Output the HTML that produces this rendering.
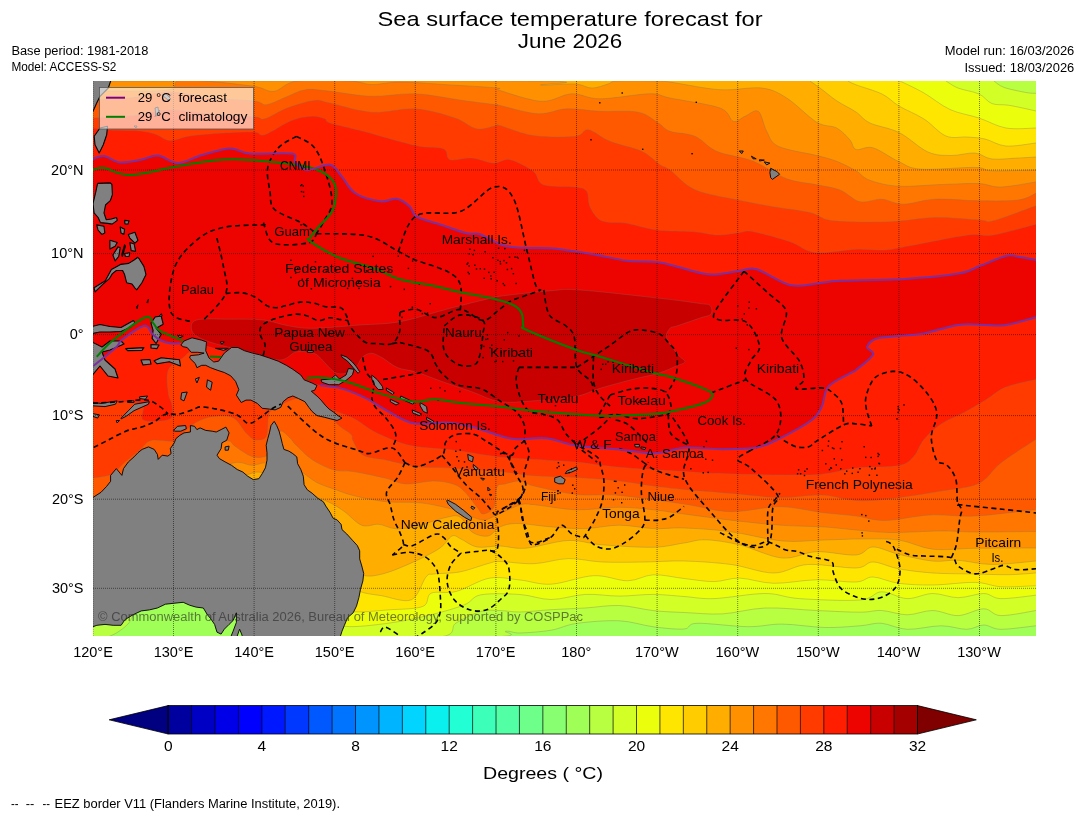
<!DOCTYPE html><html><head><meta charset="utf-8"><style>html,body{margin:0;padding:0;background:#fff;}svg{display:block;will-change:transform;}</style></head><body>
<svg width="1085" height="816" viewBox="0 0 1085 816" font-family="Liberation Sans, sans-serif">
<rect width="1085" height="816" fill="#fff"/>
<defs><clipPath id="mc"><rect x="93" y="81" width="943" height="555"/></clipPath></defs>
<g clip-path="url(#mc)">
<rect x="93" y="81" width="943" height="555" fill="#a0ff56"/>
<path d="M91,79L1038,79L1038,625.8L1036.0,625.8C1030.1,626.4 1009.5,629.4 1000.8,629.3C992.1,629.2 989.5,625.0 983.8,625.0C978.1,625.0 973.8,629.2 966.7,629.3C959.6,629.4 951.1,625.8 941.2,625.8C931.3,625.8 917.0,629.7 907.1,629.3C897.2,628.9 889.5,623.9 881.6,623.3C873.8,622.7 869.5,625.1 860.0,625.8C850.5,626.5 837.8,627.8 824.8,627.5C811.8,627.2 795.0,624.2 782.2,624.1C769.4,624.0 762.3,626.8 748.1,626.7C733.9,626.6 707.7,622.9 697.0,623.3C686.3,623.7 691.3,628.4 684.0,629.0C676.7,629.6 664.1,628.2 653.3,626.8C642.5,625.4 632.1,621.4 619.3,620.8C606.5,620.2 588.1,621.8 576.7,623.4C565.3,625.0 560.6,628.6 551.1,630.2C541.6,631.8 527.5,632.8 520.0,633.0C512.5,633.2 510.9,630.6 505.8,631.3C500.7,632.0 530.3,636.0 489.3,637.0C448.3,638.0 299.9,641.2 260.0,637.0C220.1,632.8 256.7,617.3 250.0,612.0C243.3,606.7 231.7,606.7 220.0,605.0C208.3,603.3 193.3,601.2 180.0,602.0C166.7,602.8 148.7,606.3 140.0,610.0C131.3,613.7 131.7,620.3 128.0,624.0C124.3,627.7 121.3,629.8 118.0,632.0C114.7,634.2 109.7,636.2 108.0,637.0L91,637.0Z" fill="#b7ff40" stroke="rgba(120,110,100,0.45)" stroke-width="0.7"/>
<path d="M91,79L994.0,79L994.0,81.0C995.7,82.1 998.7,85.5 1004.0,87.4C1009.3,89.3 1020.7,91.5 1026.0,92.5C1031.3,93.5 1034.3,93.2 1036.0,93.3L1038,93.3L1038,610.5L1036.0,610.5C1030.1,611.4 1009.5,615.9 1000.8,615.6C992.1,615.3 990.9,608.8 983.8,608.8C976.7,608.8 966.7,615.3 958.2,615.6C949.7,615.9 941.2,610.6 932.7,610.5C924.2,610.4 915.6,614.8 907.1,614.8C898.6,614.8 889.5,610.9 881.6,610.5C873.8,610.1 870.9,612.2 860.0,612.2C849.1,612.2 832.1,611.2 816.3,610.5C800.5,609.8 780.8,607.4 765.2,608.0C749.6,608.6 736.1,613.1 722.6,613.9C709.1,614.6 695.5,613.0 684.0,612.5C672.5,612.0 664.1,611.8 653.3,610.6C642.5,609.4 630.6,605.9 619.3,605.5C607.9,605.1 596.6,607.3 585.2,608.0C573.8,608.7 562.0,609.0 551.1,609.7C540.2,610.4 528.5,611.9 520.0,612.0C511.5,612.1 506.5,610.7 500.0,610.6C493.5,610.5 488.3,609.3 481.0,611.4C473.7,613.5 463.0,618.7 456.1,623.0C449.2,627.3 458.9,634.7 439.5,637.0C420.1,639.3 358.2,639.8 340.0,637.0C321.8,634.2 336.7,626.2 330.0,620.0C323.3,613.8 321.7,603.7 300.0,600.0C278.3,596.3 234.5,596.3 200.0,598.0C165.5,599.7 110.8,608.0 93.0,610.0L91,610.0Z" fill="#d1ff26" stroke="rgba(120,110,100,0.45)" stroke-width="0.7"/>
<path d="M91,79L946.0,79L946.0,81.0C948.0,82.2 952.5,85.8 958.0,88.0C963.5,90.2 973.3,91.4 979.0,94.0C984.7,96.6 987.0,101.7 992.0,103.6C997.0,105.5 1001.7,104.1 1009.0,105.3C1016.3,106.5 1031.5,110.0 1036.0,111.0L1038,111.0L1038,595.2L1036.0,595.2C1030.1,595.8 1009.5,598.9 1000.8,598.6C992.1,598.3 990.9,593.6 983.8,593.5C976.7,593.4 966.7,597.7 958.2,597.7C949.7,597.7 941.2,593.4 932.7,593.5C924.2,593.6 915.6,598.9 907.1,598.6C898.6,598.3 889.5,591.6 881.6,591.8C873.8,592.0 873.7,598.9 860.0,600.0C846.3,601.1 815.1,599.7 799.3,598.6C783.5,597.5 779.4,593.5 765.2,593.5C751.0,593.5 727.6,598.1 714.1,598.6C700.6,599.1 694.1,597.2 684.0,596.5C673.9,595.8 664.1,594.5 653.3,594.4C642.5,594.3 630.6,596.1 619.3,596.1C607.9,596.1 596.6,593.8 585.2,594.4C573.8,595.0 562.0,599.5 551.1,599.5C540.2,599.5 531.7,595.3 520.0,594.5C508.3,593.7 490.3,593.1 481.0,594.8C471.7,596.5 472.7,601.5 464.4,604.8C456.1,608.1 443.6,611.7 431.2,614.7C418.8,617.7 404.2,621.1 389.8,623.0C375.4,624.9 355.0,627.6 345.0,626.3C335.0,625.0 337.5,622.7 330.0,615.0C322.5,607.3 321.7,585.8 300.0,580.0C278.3,574.2 234.5,578.3 200.0,580.0C165.5,581.7 110.8,588.3 93.0,590.0L91,590.0Z" fill="#ebff0c" stroke="rgba(120,110,100,0.45)" stroke-width="0.7"/>
<path d="M91,79L900.0,79L900.0,81.0C904.0,83.0 915.7,88.2 924.0,93.0C932.3,97.8 940.8,105.3 950.0,109.5C959.2,113.7 969.7,114.9 979.0,118.0C988.3,121.1 996.5,126.3 1006.0,128.0C1015.5,129.7 1031.0,128.0 1036.0,128.0L1038,128.0L1038,585.8L1036.0,585.8C1030.1,585.9 1010.9,587.3 1000.8,586.7C990.7,586.1 986.6,582.7 975.3,582.4C963.9,582.1 945.5,584.9 932.7,585.0C919.9,585.1 908.6,584.6 898.6,583.3C888.6,582.0 880.1,577.2 873.0,577.0C865.9,576.8 865.5,581.5 856.0,582.0C846.5,582.5 830.0,579.6 816.3,579.8C802.6,580.0 786.5,583.6 773.7,583.3C760.9,583.0 749.5,578.4 739.6,578.1C729.7,577.8 723.4,581.5 714.1,581.6C704.8,581.7 694.1,579.6 684.0,578.5C673.9,577.4 662.7,574.4 653.3,574.8C643.9,575.2 637.7,580.6 627.8,580.8C617.9,580.9 606.5,575.1 593.7,575.7C580.9,576.3 563.4,583.5 551.1,584.2C538.8,584.9 530.3,581.0 520.0,580.0C509.7,579.0 499.9,576.3 489.3,578.2C478.7,580.1 465.8,589.0 456.1,591.5C446.4,594.0 436.7,590.7 431.2,593.2C425.7,595.7 429.8,603.6 422.9,606.4C416.0,609.2 401.9,609.0 389.8,609.8C377.7,610.6 360.0,613.0 350.0,611.4C340.0,609.8 338.3,608.6 330.0,600.0C321.7,591.4 321.7,566.7 300.0,560.0C278.3,553.3 234.5,557.5 200.0,560.0C165.5,562.5 110.8,572.5 93.0,575.0L91,575.0Z" fill="#ffe600" stroke="rgba(120,110,100,0.45)" stroke-width="0.7"/>
<path d="M91,79L848.0,79L848.0,81.0C849.3,81.6 850.3,82.6 856.0,84.8C861.7,87.0 874.8,90.5 882.0,94.0C889.2,97.5 892.0,101.8 899.0,106.0C906.0,110.2 916.2,114.0 924.0,119.0C931.8,124.0 938.8,133.0 946.0,136.0C953.2,139.0 960.5,136.5 967.0,137.0C973.5,137.5 978.5,137.5 985.0,139.0C991.5,140.5 997.5,145.3 1006.0,146.0C1014.5,146.7 1031.0,143.5 1036.0,143.0L1038,143.0L1038,573.0L1036.0,573.0C1031.5,573.3 1019.2,574.5 1009.0,574.7C998.8,574.9 987.7,574.3 975.0,574.0C962.3,573.7 945.4,573.9 932.7,573.0C920.0,572.1 908.6,570.6 898.6,568.8C888.6,567.0 880.1,562.1 873.0,562.0C865.9,561.9 866.9,567.6 856.0,568.0C845.1,568.4 821.5,563.7 807.8,564.5C794.1,565.3 786.5,573.0 773.7,573.0C760.9,573.0 746.1,566.5 731.1,564.5C716.1,562.5 698.4,561.4 684.0,561.0C669.6,560.6 658.4,561.8 644.8,562.0C631.2,562.2 615.0,562.6 602.2,562.0C589.4,561.4 579.5,558.3 568.1,558.6C556.8,558.9 545.5,563.2 534.1,563.7C522.8,564.2 507.5,561.6 500.0,561.5C492.5,561.4 495.7,561.6 489.0,563.3C482.3,565.0 469.2,570.1 460.0,571.9C450.8,573.7 439.7,573.1 434.0,574.0C428.3,574.9 429.8,572.7 426.0,577.0C422.2,581.3 418.7,596.7 411.3,599.8C403.9,602.9 390.1,597.1 381.5,595.7C372.9,594.3 366.8,594.1 359.9,591.5C353.0,588.9 350.0,588.6 340.0,580.0C330.0,571.4 323.3,546.7 300.0,540.0C276.7,533.3 234.5,536.7 200.0,540.0C165.5,543.3 110.8,556.7 93.0,560.0L91,560.0Z" fill="#ffcc00" stroke="rgba(120,110,100,0.45)" stroke-width="0.7"/>
<path d="M91,79L810.0,79L810.0,81.0C811.7,82.2 815.5,84.7 820.0,88.0C824.5,91.3 831.0,97.0 837.0,101.0C843.0,105.0 850.5,108.3 856.0,112.0C861.5,115.7 862.8,119.6 870.0,123.0C877.2,126.4 889.3,127.7 899.0,132.5C908.7,137.3 919.3,148.2 928.0,152.0C936.7,155.8 943.2,155.3 951.0,155.5C958.8,155.7 968.2,152.4 975.0,153.0C981.8,153.6 984.8,158.2 992.0,159.0C999.2,159.8 1010.7,158.3 1018.0,158.0C1025.3,157.7 1033.0,157.2 1036.0,157.0L1038,157.0L1038,561.0L1036.0,561.0C1028.7,561.6 1005.3,564.6 992.3,564.5C979.3,564.4 968.1,560.9 958.2,560.3C948.3,559.7 942.6,562.1 932.7,561.1C922.8,560.1 908.6,556.6 898.6,554.3C888.6,551.9 880.1,546.9 873.0,547.0C865.9,547.1 865.5,554.2 856.0,555.0C846.5,555.8 828.6,551.2 816.3,551.7C804.0,552.2 795.0,559.1 782.2,558.0C769.4,556.9 752.4,547.9 739.6,544.9C726.8,541.9 714.9,540.1 705.6,539.8C696.3,539.5 692.7,541.8 684.0,543.0C675.3,544.2 666.9,547.0 653.3,547.3C639.7,547.6 616.4,545.9 602.2,544.8C588.0,543.7 580.9,539.9 568.1,540.5C555.3,541.1 537.0,547.3 525.6,548.2C514.2,549.1 508.1,546.2 500.0,546.0C491.9,545.8 483.5,548.2 477.0,547.0C470.5,545.8 465.2,540.8 461.0,539.0C456.8,537.2 455.5,534.5 452.0,536.0C448.5,537.5 446.1,543.8 440.0,548.0C433.9,552.2 424.9,556.8 415.6,561.0C406.3,565.2 393.1,571.2 384.2,573.5C375.3,575.8 369.4,577.2 362.0,575.0C354.6,572.8 350.3,569.2 340.0,560.0C329.7,550.8 323.3,526.7 300.0,520.0C276.7,513.3 234.5,516.7 200.0,520.0C165.5,523.3 110.8,536.7 93.0,540.0L91,540.0Z" fill="#ffae00" stroke="rgba(120,110,100,0.45)" stroke-width="0.7"/>
<path d="M91,81.0L93.0,81.0C166.3,81.0 458.3,80.3 533.0,81.0C607.7,81.7 534.0,84.5 541.0,85.0C548.0,85.5 566.5,83.5 575.0,84.0C583.5,84.5 586.5,88.0 592.0,88.0C597.5,88.0 603.8,85.2 608.0,84.0C612.2,82.8 609.2,81.5 617.0,81.0C624.8,80.5 646.2,80.8 655.0,81.0C663.8,81.2 659.2,80.5 670.0,82.0C680.8,83.5 704.7,88.7 720.0,89.7C735.3,90.7 750.6,86.6 761.7,88.0C772.8,89.4 777.5,92.3 786.7,98.0C795.9,103.7 808.4,117.2 816.7,122.2C825.0,127.2 831.2,125.0 836.7,128.0C842.2,131.0 846.8,136.4 850.0,140.0C853.2,143.6 852.2,148.2 856.0,149.5C859.8,150.8 865.9,145.8 873.0,147.8C880.1,149.8 890.6,157.9 898.6,161.5C906.6,165.1 907.9,168.1 920.7,169.1C933.5,170.1 963.3,167.1 975.2,167.4C987.1,167.7 982.2,170.4 992.3,170.8C1002.4,171.2 1028.7,170.1 1036.0,170.0L1038,170.0L1038,548.0L1036.0,548.0C1025.8,548.0 992.2,548.1 975.0,548.3C957.8,548.5 945.4,550.6 932.7,549.2C920.0,547.8 910.7,541.7 898.6,540.0C886.5,538.3 872.3,539.0 860.0,539.0C847.7,539.0 837.8,539.7 824.8,540.0C811.8,540.3 797.8,542.4 782.2,541.0C766.6,539.6 747.5,534.0 731.1,531.8C714.7,529.6 697.0,528.5 684.0,528.0C671.0,527.5 664.1,529.1 653.3,528.6C642.5,528.1 630.6,525.2 619.3,525.2C607.9,525.2 596.6,528.3 585.2,528.6C573.8,528.9 562.5,527.8 551.1,526.9C539.7,526.0 525.5,523.5 517.0,523.5C508.5,523.5 504.8,524.9 500.0,527.0C495.2,529.1 492.7,535.2 488.0,536.0C483.3,536.8 476.7,535.2 472.0,532.0C467.3,528.8 464.5,519.4 460.0,517.0C455.5,514.6 452.4,516.1 445.0,517.7C437.6,519.3 423.9,524.7 415.6,526.5C407.3,528.3 401.5,529.1 395.3,528.7C389.1,528.3 384.2,524.8 378.7,524.3C373.2,523.8 367.7,527.4 362.1,525.4C356.5,523.4 349.6,515.4 345.0,512.0C340.4,508.6 337.2,506.7 334.3,505.0C331.4,503.3 331.8,503.5 327.7,501.7C323.6,499.9 317.9,497.6 310.0,494.0C302.1,490.4 287.6,483.5 280.0,480.0C272.4,476.5 269.7,473.8 264.1,473.0C258.5,472.2 257.1,470.7 246.4,475.2C235.7,479.7 225.6,492.5 200.0,500.0C174.4,507.5 110.8,516.7 93.0,520.0L91,520.0Z" fill="#ff9100" stroke="rgba(120,110,100,0.45)" stroke-width="0.7"/>
<path d="M91,90.0L93.0,90.0C95.8,90.2 97.5,91.0 110.0,91.0C122.5,91.0 156.7,91.7 168.0,90.0C179.3,88.3 171.8,82.5 178.0,81.0C184.2,79.5 192.3,80.1 205.0,81.0C217.7,81.9 242.5,84.6 254.0,86.3C265.5,88.0 266.8,92.2 274.0,91.3C281.2,90.4 284.3,82.7 297.0,81.0C309.7,79.3 337.5,80.4 350.0,81.0C362.5,81.6 363.7,84.3 372.0,84.5C380.3,84.7 387.5,82.0 400.0,82.0C412.5,82.0 430.8,83.7 447.0,84.7C463.2,85.7 488.2,87.0 497.0,88.0C505.8,89.0 492.6,88.3 500.0,90.5C507.4,92.7 529.8,100.8 541.7,101.3C553.7,101.8 562.0,94.2 571.7,93.8C581.4,93.4 587.0,98.8 600.0,98.8C613.0,98.8 638.3,93.9 650.0,93.8C661.7,93.7 658.3,95.6 670.0,98.0C681.7,100.4 709.5,104.1 720.0,108.0C730.5,111.9 729.1,119.9 733.3,121.3C737.5,122.7 740.8,118.0 745.0,116.3C749.2,114.6 754.7,108.8 758.3,111.3C761.9,113.8 763.4,125.5 766.7,131.3C770.0,137.1 770.0,142.3 778.3,146.3C786.6,150.3 807.0,153.0 816.7,155.5C826.4,158.0 830.2,158.8 836.7,161.3C843.2,163.9 850.5,167.7 856.0,170.8C861.5,174.0 862.5,177.6 869.6,180.2C876.7,182.8 886.7,185.5 898.6,186.2C910.5,186.9 927.9,184.9 941.2,184.5C954.6,184.1 968.8,183.2 978.7,183.6C988.6,184.0 991.2,187.3 1000.8,187.0C1010.3,186.7 1030.1,182.8 1036.0,181.9L1038,181.9L1038,531.5L1036.0,531.5C1025.8,531.6 990.8,532.1 975.0,532.0C959.2,531.9 955.2,530.9 941.0,531.0C926.8,531.1 904.2,532.7 890.0,532.5C875.8,532.3 866.9,530.9 856.0,530.0C845.1,529.1 837.1,527.8 824.8,527.0C812.5,526.2 797.8,526.4 782.2,525.3C766.6,524.2 747.5,522.1 731.1,520.2C714.7,518.3 697.0,515.7 684.0,514.0C671.0,512.3 664.1,510.9 653.3,509.8C642.5,508.7 632.1,507.3 619.3,507.3C606.5,507.3 590.9,510.2 576.7,509.8C562.5,509.4 543.6,505.5 534.1,504.7C524.6,503.9 526.2,503.3 520.0,505.0C513.8,506.7 503.0,512.5 497.0,515.0C491.0,517.5 488.5,519.8 484.0,520.0C479.5,520.2 474.8,517.7 470.0,516.0C465.2,514.3 463.0,512.2 455.0,510.0C447.0,507.8 433.5,504.4 422.0,503.0C410.5,501.6 397.3,502.9 386.0,501.7C374.7,500.5 362.9,497.9 354.3,495.8C345.7,493.7 340.6,491.4 334.3,489.2C328.1,487.0 322.4,485.4 316.8,482.5C311.2,479.6 305.8,474.1 301.0,471.7C296.2,469.3 291.5,468.3 288.0,468.0C284.5,467.7 283.6,470.8 280.0,470.0C276.4,469.2 271.0,463.8 266.3,463.0C261.6,462.2 257.4,465.3 251.9,465.3C246.4,465.3 241.8,460.6 233.1,463.0C224.4,465.4 223.3,473.8 200.0,480.0C176.7,486.2 110.8,496.7 93.0,500.0L91,500.0Z" fill="#ff7700" stroke="rgba(120,110,100,0.45)" stroke-width="0.7"/>
<path d="M91,100.0L93.0,100.0C99.2,99.7 117.2,99.3 130.0,98.0C142.8,96.7 156.7,92.0 170.0,92.0C183.3,92.0 196.0,96.5 210.0,98.0C224.0,99.5 244.6,99.9 254.0,101.0C263.4,102.1 261.2,105.3 266.5,104.7C271.8,104.1 279.2,99.7 285.7,97.2C292.2,94.7 298.3,90.7 305.7,89.7C313.1,88.7 319.0,90.2 330.0,91.3C341.0,92.4 357.4,95.9 371.7,96.3C385.9,96.7 400.3,93.1 415.5,93.8C430.7,94.5 449.6,98.7 463.0,100.5C476.4,102.3 489.6,103.9 495.8,104.7C502.0,105.5 492.9,104.0 500.0,105.5C507.1,107.0 527.2,113.2 538.3,113.8C549.4,114.3 556.4,109.2 566.7,108.8C577.0,108.4 588.1,110.7 600.0,111.3C611.9,111.9 628.6,110.2 638.3,112.2C648.0,114.2 653.0,119.8 658.3,123.0C663.6,126.2 663.9,129.1 670.0,131.3C676.1,133.5 687.2,133.0 695.0,136.3C702.8,139.6 707.0,147.1 716.7,151.3C726.4,155.5 741.6,156.7 753.3,161.3C765.0,165.9 776.1,174.9 786.7,178.8C797.3,182.7 807.8,182.8 816.7,184.7C825.6,186.6 832.8,187.2 840.0,190.0C847.2,192.8 853.0,200.2 860.0,201.7C867.0,203.2 874.5,198.8 881.7,199.2C888.9,199.6 894.4,204.2 903.3,204.2C912.2,204.2 922.2,199.8 935.0,199.2C947.8,198.6 966.1,200.7 980.0,200.8C993.9,200.9 1009.0,201.2 1018.3,200.0C1027.6,198.8 1033.0,194.4 1036.0,193.3L1038,193.3L1038,509.5L1036.0,509.5C1025.8,510.6 992.7,515.1 975.0,516.0C957.3,516.9 945.0,514.2 930.0,515.0C915.0,515.8 897.3,520.3 885.0,520.5C872.7,520.7 866.5,517.3 856.0,516.0C845.5,514.7 834.4,514.0 821.7,512.5C809.0,510.9 795.3,506.8 780.0,506.7C764.7,506.6 746.0,512.1 730.0,511.7C714.0,511.2 702.5,506.7 684.0,504.0C665.5,501.3 637.2,497.0 619.3,495.4C601.4,493.8 590.9,496.1 576.7,494.5C562.5,492.9 543.6,488.2 534.1,486.0C524.6,483.8 524.9,481.3 520.0,481.0C515.1,480.7 508.8,483.0 505.0,484.0C501.2,485.0 498.8,483.2 497.0,487.0C495.2,490.8 496.3,502.5 494.0,507.0C491.7,511.5 485.8,514.0 483.0,514.0C480.2,514.0 480.2,510.8 477.0,507.0C473.8,503.2 468.0,494.8 464.0,491.0C460.0,487.2 458.2,485.7 453.0,484.0C447.8,482.3 440.8,481.0 433.0,481.0C425.2,481.0 413.8,484.4 406.0,484.0C398.2,483.6 394.6,480.4 386.0,478.3C377.4,476.2 362.9,473.1 354.3,471.7C345.7,470.3 341.2,471.9 334.3,470.0C327.4,468.1 319.1,464.2 312.7,460.0C306.3,455.8 299.8,448.7 296.0,445.0C292.2,441.3 292.5,440.3 290.0,438.0C287.5,435.7 283.5,430.7 281.0,431.0C278.5,431.3 277.3,435.9 275.0,440.0C272.7,444.1 271.2,452.6 267.4,455.3C263.5,458.0 257.2,457.9 251.9,456.4C246.6,454.9 239.5,449.1 235.3,446.5C231.1,443.9 232.4,440.3 226.5,440.9C220.6,441.5 212.8,446.5 200.0,450.0C187.2,453.5 165.0,455.3 150.0,462.0C135.0,468.7 119.5,483.5 110.0,490.0C100.5,496.5 95.8,499.2 93.0,501.0L91,501.0Z" fill="#ff5900" stroke="rgba(120,110,100,0.45)" stroke-width="0.7"/>
<path d="M91,118.0L93.0,118.0C99.2,117.7 117.2,117.3 130.0,116.0C142.8,114.7 156.7,110.3 170.0,110.0C183.3,109.7 196.0,112.9 210.0,114.0C224.0,115.1 244.9,116.0 254.0,116.8C263.1,117.5 259.2,120.3 264.8,118.8C270.4,117.3 279.1,111.0 287.3,108.0C295.5,105.0 306.9,101.3 314.0,100.5C321.1,99.7 320.4,101.0 330.0,103.0C339.6,105.0 357.4,111.2 371.7,112.2C385.9,113.2 401.6,107.8 415.5,108.8C429.4,109.8 444.8,114.7 455.0,118.0C465.2,121.3 469.8,127.6 476.7,128.8C483.6,130.1 492.8,126.0 496.7,125.5C500.6,125.0 493.9,123.8 500.0,125.5C506.1,127.2 520.8,133.7 533.3,135.5C545.8,137.3 565.8,137.3 575.0,136.3C584.2,135.3 582.5,128.9 588.3,129.7C594.1,130.5 601.1,137.7 610.0,141.3C618.9,144.9 633.4,147.4 641.7,151.3C650.0,155.2 655.3,161.6 660.0,164.7C664.7,167.8 664.2,165.8 670.0,170.0C675.8,174.2 683.9,184.8 695.0,189.7C706.1,194.6 723.7,196.9 736.7,199.7C749.8,202.5 761.1,204.6 773.3,206.7C785.5,208.8 800.0,210.2 810.0,212.5C820.0,214.8 820.0,219.3 833.3,220.8C846.6,222.3 873.0,222.2 890.0,221.7C907.0,221.1 920.0,217.8 935.0,217.5C950.0,217.2 970.3,219.4 980.0,220.0C989.7,220.6 984.0,223.2 993.3,220.8C1002.6,218.4 1028.9,208.3 1036.0,205.8L1038,205.8L1038,439.2L1036.0,439.2C1030.1,443.2 1010.3,455.6 1000.8,463.0C991.2,470.4 988.6,478.8 978.7,483.5C968.8,488.2 956.0,488.6 941.2,491.1C926.4,493.7 904.3,497.2 890.1,498.8C875.9,500.4 867.4,501.1 856.0,500.5C844.6,499.9 834.4,495.5 821.7,495.0C809.0,494.5 795.3,497.8 780.0,497.5C764.7,497.2 746.0,494.7 730.0,493.3C714.0,491.9 696.8,490.6 684.0,489.4C671.2,488.2 664.1,487.4 653.3,486.0C642.5,484.6 632.1,482.3 619.3,480.9C606.5,479.5 590.9,478.4 576.7,477.5C562.5,476.6 546.9,476.8 534.1,475.8C521.3,474.8 512.4,472.7 500.0,471.5C487.6,470.3 470.1,469.3 460.0,468.7C449.9,468.1 447.0,468.0 439.6,467.6C432.2,467.2 424.5,467.8 415.6,466.5C406.7,465.2 394.8,461.9 386.0,460.0C377.2,458.1 368.2,458.3 362.7,455.0C357.1,451.7 354.6,443.4 352.7,440.0C350.8,436.6 353.8,437.2 351.1,434.4C348.4,431.6 340.6,427.9 336.3,423.1C332.0,418.3 331.2,409.6 325.2,405.4C319.1,401.2 308.5,397.4 300.0,398.0C291.5,398.6 279.2,405.7 274.0,408.8C268.8,411.9 269.8,412.0 268.5,416.6C267.2,421.2 268.5,432.6 266.3,436.5C264.1,440.4 258.5,440.4 255.2,439.8C251.9,439.2 250.1,436.9 246.4,433.2C242.7,429.5 238.6,420.5 233.1,417.7C227.6,414.9 219.3,415.9 213.2,416.6C207.1,417.3 201.5,419.5 196.6,422.1C191.7,424.7 187.8,428.9 184.0,432.0C180.2,435.1 179.5,439.6 174.0,441.0C168.5,442.4 156.7,439.0 151.0,440.5C145.3,442.0 144.3,446.4 140.0,450.0C135.7,453.6 129.7,458.0 125.0,462.0C120.3,466.0 117.3,471.3 112.0,474.0C106.7,476.7 96.2,477.3 93.0,478.0L91,478.0Z" fill="#ff3b00" stroke="rgba(120,110,100,0.45)" stroke-width="0.7"/>
<path d="M91,128.0L93.0,128.0C95.8,128.3 102.2,129.5 110.0,130.0C117.8,130.5 132.2,130.2 140.0,131.0C147.8,131.8 151.7,133.1 156.7,134.7C161.7,136.3 164.4,140.3 170.0,140.5C175.6,140.7 181.2,137.2 190.0,136.0C198.8,134.8 212.3,133.7 223.0,133.0C233.7,132.3 247.0,131.7 254.0,132.0C261.0,132.3 258.6,136.6 264.8,134.7C271.1,132.8 283.6,123.6 291.5,120.5C299.4,117.4 306.8,116.6 312.3,116.3C317.9,116.0 321.9,117.7 324.8,118.8C327.8,119.9 323.6,120.9 330.0,123.0C336.4,125.1 349.1,127.6 363.3,131.3C377.6,135.1 402.2,142.6 415.5,145.5C428.8,148.4 437.6,146.4 443.3,148.8C449.1,151.2 445.3,158.2 450.0,159.7C454.7,161.2 464.5,157.4 471.7,158.0C478.9,158.6 486.9,162.7 493.3,163.0C499.7,163.3 503.3,158.3 510.0,159.7C516.7,161.1 527.8,167.1 533.3,171.3C538.8,175.5 536.3,182.1 543.3,184.7C550.2,187.3 567.8,185.9 575.0,187.0C582.2,188.1 584.2,188.0 586.7,191.3C589.2,194.6 587.5,201.8 590.0,206.7C592.5,211.6 595.6,218.0 601.7,220.8C607.8,223.6 617.5,221.8 626.7,223.3C635.9,224.8 645.6,228.6 656.7,230.0C667.8,231.4 683.0,230.9 693.3,231.7C703.6,232.5 710.5,234.9 718.3,235.0C726.1,235.1 734.2,233.1 740.0,232.5C745.8,231.9 745.0,230.2 753.3,231.7C761.6,233.2 779.7,238.2 790.0,241.7C800.3,245.2 803.9,251.2 815.0,252.5C826.1,253.8 845.0,249.6 856.7,249.2C868.4,248.8 876.1,250.6 885.0,250.0C893.9,249.4 896.1,248.3 910.0,245.8C923.9,243.3 954.4,236.8 968.3,235.0C982.2,233.2 982.0,236.8 993.3,235.0C1004.6,233.2 1028.9,226.0 1036.0,224.2L1038,224.2L1038,379.4L1036.0,379.4C1031.0,380.7 1014.3,383.7 1005.9,387.1C997.5,390.5 992.3,395.9 985.5,400.0C978.7,404.1 972.4,407.9 965.0,411.9C957.6,415.9 948.0,419.3 941.2,423.9C934.4,428.4 928.7,433.8 924.1,439.2C919.5,444.6 918.1,451.8 913.9,456.2C909.6,460.6 908.2,463.6 898.6,465.6C889.0,467.6 868.8,466.7 856.0,468.1C843.2,469.5 834.4,473.1 821.7,474.2C809.0,475.3 798.1,475.1 780.0,475.0C761.9,474.9 729.3,473.9 713.3,473.3C697.3,472.7 699.7,472.5 684.0,471.5C668.3,470.5 637.2,468.9 619.3,467.3C601.4,465.7 588.1,463.2 576.7,462.1C565.3,461.0 563.9,461.2 551.1,460.4C538.3,459.5 515.2,458.6 500.0,457.0C484.8,455.4 470.1,452.4 460.0,451.0C449.9,449.6 447.0,449.6 439.6,448.8C432.2,448.1 423.0,447.8 415.6,446.5C408.2,445.2 402.4,443.6 395.3,441.0C388.2,438.4 379.6,434.6 373.2,431.1C366.8,427.6 361.5,422.8 356.6,420.0C351.7,417.2 349.8,416.6 344.0,414.2C338.2,411.8 329.2,409.1 321.9,405.4C314.6,401.7 310.3,395.4 300.0,392.0C289.7,388.6 271.7,388.7 260.0,385.0C248.3,381.3 240.0,375.5 230.0,370.0C220.0,364.5 206.7,355.0 200.0,352.0C193.3,349.0 192.8,351.1 190.0,352.0C187.2,352.9 186.9,354.5 183.3,357.5C179.7,360.5 170.8,364.0 168.3,370.0C165.8,376.0 167.7,387.5 168.3,393.3C168.9,399.1 171.7,400.7 172.0,405.0C172.3,409.3 174.8,416.5 170.0,419.0C165.2,421.5 148.3,422.6 143.3,420.0C138.3,417.4 148.4,406.1 140.0,403.3C131.6,400.5 100.8,403.3 93.0,403.3L91,403.3Z" fill="#ff1e00" stroke="rgba(120,110,100,0.45)" stroke-width="0.7"/>
<path d="M91,159.0L93.0,159.0C94.8,158.5 99.5,155.4 104.0,156.0C108.5,156.6 114.0,161.7 120.0,162.4C126.0,163.1 133.7,161.1 140.0,160.0C146.3,158.9 151.7,155.1 158.0,155.6C164.3,156.1 170.7,163.1 178.0,163.0C185.3,162.9 193.3,157.4 202.0,155.0C210.7,152.6 222.0,148.6 230.0,148.4C238.0,148.2 239.7,152.7 250.0,153.6C260.3,154.5 284.5,152.2 292.0,153.6C299.5,155.0 292.5,159.3 295.0,162.0C297.5,164.7 301.2,169.6 307.0,170.0C312.8,170.4 324.2,163.6 330.0,164.7C335.8,165.8 337.5,171.6 341.7,176.3C345.9,181.0 348.6,188.8 355.0,193.0C361.4,197.2 373.1,200.3 380.0,201.3C386.9,202.3 391.7,197.9 396.7,198.8C401.7,199.7 406.7,203.7 410.0,206.7C413.3,209.7 411.4,213.6 416.7,216.7C422.0,219.8 433.4,222.2 441.7,225.0C450.0,227.8 460.3,231.8 466.7,233.3C473.1,234.8 474.4,232.4 480.0,234.2C485.6,236.0 493.9,242.0 500.0,244.2C506.1,246.4 508.4,246.8 516.7,247.5C525.0,248.2 542.8,248.0 550.0,248.3C557.2,248.6 552.8,248.2 560.0,249.2C567.2,250.2 582.2,252.3 593.3,254.2C604.4,256.1 615.6,259.4 626.7,260.8C637.8,262.2 647.5,260.4 660.0,262.5C672.5,264.6 692.0,271.4 701.7,273.3C711.4,275.2 711.9,274.6 718.3,274.2C724.7,273.8 733.6,271.6 740.0,270.8C746.4,270.0 748.4,266.8 756.7,269.2C765.0,271.6 779.7,282.6 790.0,285.0C800.3,287.4 810.0,284.0 818.3,283.3C826.6,282.6 826.1,281.5 840.0,280.8C853.9,280.1 881.7,280.4 901.7,279.2C921.7,277.9 947.0,275.5 960.0,273.3C973.0,271.1 972.2,268.7 980.0,265.8C987.8,262.9 1000.3,257.3 1006.7,255.8C1013.1,254.3 1013.4,256.0 1018.3,256.7C1023.2,257.4 1033.0,259.4 1036.0,260.0L1038,260.0L1038,317.3L1036.0,317.3C1031.0,318.6 1014.6,323.6 1005.9,324.9C997.2,326.2 991.8,324.9 983.8,324.9C975.8,324.9 968.2,323.5 958.2,324.9C948.2,326.3 934.0,331.5 924.1,333.4C914.2,335.2 906.6,335.1 898.6,336.0C890.6,336.9 881.6,336.8 876.4,338.6C871.1,340.5 867.7,344.4 867.1,347.1C866.5,349.8 874.9,350.9 873.0,354.7C871.1,358.5 859.8,366.9 856.0,370.0C852.2,373.1 854.6,370.5 850.0,373.3C845.4,376.1 833.0,381.1 828.3,386.7C823.6,392.3 824.5,401.1 821.7,406.7C818.9,412.2 818.7,414.7 811.7,420.0C804.8,425.3 789.2,433.7 780.0,438.3C770.8,442.9 766.4,445.7 756.7,447.5C747.0,449.3 733.8,449.2 721.7,449.2C709.6,449.2 695.1,447.0 684.0,447.7C672.9,448.4 666.2,453.1 655.0,453.3C643.8,453.6 629.8,450.4 616.7,449.2C603.7,447.9 588.4,447.6 576.7,445.8C565.0,444.0 556.7,439.4 546.7,438.3C536.7,437.2 524.5,439.6 516.7,439.2C508.9,438.8 507.5,437.9 500.0,435.8C492.5,433.7 480.6,428.9 471.7,426.7C462.8,424.5 456.4,423.1 446.7,422.5C437.0,421.9 423.4,425.3 413.3,423.3C403.2,421.3 394.6,414.6 386.4,410.3C378.2,406.0 371.6,401.0 364.2,397.4C356.8,393.8 349.5,390.6 342.1,388.6C334.7,386.6 327.0,387.1 320.0,385.3C313.0,383.5 310.0,381.9 300.0,378.0C290.0,374.1 273.3,366.7 260.0,362.0C246.7,357.3 231.7,353.3 220.0,350.0C208.3,346.7 196.7,343.1 190.0,342.0C183.3,340.9 183.3,343.1 180.0,343.3C176.7,343.5 173.3,343.9 170.0,343.3C166.7,342.8 162.9,341.5 160.0,340.0C157.1,338.5 155.1,336.6 152.5,334.2C149.9,331.8 149.3,324.8 144.2,325.8C139.1,326.8 126.3,336.5 121.7,340.0C117.1,343.5 120.9,342.8 116.7,346.7C112.5,350.6 100.7,360.1 96.7,363.3C92.8,366.5 93.6,365.6 93.0,366.0L91,366.0Z" fill="#ed0400" stroke="rgba(120,110,100,0.45)" stroke-width="0.7"/>
<path d="M191.7,330.0C191.1,327.0 190.3,321.8 196.7,320.0C203.1,318.2 218.9,319.2 230.0,319.2C241.1,319.2 253.6,318.9 263.3,320.0C273.0,321.1 280.0,324.4 288.3,325.8C296.6,327.2 301.4,328.4 313.3,328.3C325.2,328.2 345.6,326.1 360.0,325.0C374.4,323.9 385.0,324.5 400.0,321.7C415.0,318.9 435.6,312.1 450.0,308.3C464.4,304.6 477.8,301.3 486.7,299.2C495.6,297.1 492.8,297.2 503.3,295.8C513.9,294.4 537.2,291.8 550.0,290.8C562.8,289.8 561.7,288.8 580.0,290.0C598.3,291.2 640.0,296.1 660.0,298.3C680.0,300.6 691.7,302.3 700.0,303.5C708.3,304.7 708.2,303.8 710.0,305.5C711.8,307.2 712.7,311.9 711.0,314.0C709.3,316.1 705.7,316.0 700.0,318.0C694.3,320.0 681.7,324.3 676.7,326.0C671.7,327.7 671.7,326.2 670.0,328.3C668.3,330.4 665.3,333.9 666.7,338.3C668.1,342.8 675.2,351.1 678.3,355.0C681.3,358.9 685.3,359.9 685.0,361.7C684.7,363.5 681.2,363.9 676.7,365.8C672.2,367.7 665.5,371.1 658.3,373.3C651.1,375.5 643.0,376.7 633.3,379.2C623.6,381.7 609.7,385.4 600.0,388.3C590.3,391.2 586.1,394.6 575.0,396.7C563.9,398.8 545.8,400.0 533.3,400.8C520.8,401.6 510.3,403.2 500.0,401.7C489.7,400.2 481.7,395.2 471.7,391.7C461.7,388.2 449.2,384.1 440.0,380.8C430.8,377.5 423.3,374.2 416.2,372.0C409.1,369.8 403.1,370.0 397.4,367.6C391.7,365.2 386.4,360.0 382.0,357.6C377.6,355.2 374.2,353.2 370.9,353.2C367.6,353.2 364.4,355.4 362.0,357.6C359.6,359.8 359.1,363.9 356.5,366.5C353.9,369.1 350.2,372.2 346.5,373.1C342.8,374.0 338.8,374.6 334.4,372.0C330.0,369.4 323.5,360.7 320.0,357.6C316.5,354.5 317.2,354.3 313.3,353.3C309.4,352.3 302.2,350.6 296.7,351.7C291.1,352.8 287.8,359.9 280.0,360.0C272.2,360.1 260.0,354.5 250.0,352.0C240.0,349.5 228.3,347.3 220.0,345.0C211.7,342.7 204.7,340.5 200.0,338.0C195.3,335.5 192.2,333.0 191.7,330.0Z" fill="#c80000" stroke="rgba(120,110,100,0.45)" stroke-width="0.7"/>
<polygon points="80.8,503.5 92.9,497.5 101.0,492.3 106.6,486.4 110.6,481.3 110.6,475.4 116.3,468.6 121.9,475.4 123.5,468.6 128.4,461.9 134.0,456.9 138.0,452.7 142.1,449.4 148.5,446.9 154.2,449.4 157.4,454.4 158.2,459.4 162.2,455.2 167.9,456.1 171.1,453.6 170.3,448.6 174.3,442.8 175.9,438.6 179.9,435.3 184.0,432.9 190.4,432.0 190.4,425.5 194.5,426.3 196.9,429.6 200.1,427.9 205.7,430.4 212.2,431.2 216.2,432.0 221.1,429.6 225.9,427.1 229.1,432.9 226.7,440.3 221.9,442.8 221.1,448.6 217.0,455.2 219.4,458.6 225.1,461.9 231.5,465.3 237.2,469.5 242.8,472.0 247.7,476.2 253.3,479.6 258.9,478.7 262.2,473.7 265.4,467.8 267.0,460.2 267.0,452.7 266.2,445.3 267.8,438.6 269.4,432.9 271.0,425.5 274.2,421.3 276.7,425.5 279.1,431.2 280.7,437.0 282.3,443.6 283.9,449.4 288.8,451.1 292.8,453.6 296.8,456.9 297.6,463.6 300.8,469.5 303.3,476.2 304.1,484.7 307.3,489.8 312.1,493.2 317.8,498.3 323.4,501.8 325.8,506.1 329.9,512.1 333.1,518.2 337.1,519.9 341.1,524.3 342.0,529.6 346.8,534.0 352.4,540.2 357.3,545.5 359.7,550.8 359.7,558.9 362.1,567.1 363.7,573.5 362.9,580.9 360.5,589.2 358.9,597.6 356.5,606.1 353.2,612.8 347.6,617.6 344.4,625.3 342.0,631.2 339.5,639.0 336.3,651.0 243.6,651.0 242.8,642.0 242.0,635.1 239.6,629.2 237.2,636.1 235.6,639.0 229.9,639.0 233.1,631.2 236.4,622.4 236.4,612.8 233.1,620.5 229.1,624.4 224.3,629.2 221.1,634.1 217.0,632.2 214.6,624.4 210.6,618.6 207.4,614.7 203.3,608.0 196.1,607.1 189.6,605.2 183.2,602.3 173.5,603.3 165.4,604.2 157.4,608.0 149.3,609.9 141.3,610.9 133.2,614.7 125.1,619.5 121.1,625.3 113.1,625.3 105.0,624.4 96.9,625.3 88.9,628.2 80.8,631.2" fill="#808080" stroke="#000" stroke-width="0.9" stroke-linejoin="round"/>
<polygon points="180.8,345.1 184.0,341.0 192.0,337.8 201.7,340.2 206.5,341.9 205.7,350.7 209.0,358.0 213.8,362.0 218.6,361.2 224.3,353.1 231.5,347.5 238.0,347.5 244.4,350.7 252.5,353.1 259.7,354.8 269.4,358.0 278.3,361.2 286.3,365.3 292.8,369.3 300.8,375.0 304.1,379.8 312.1,383.0 317.0,385.5 314.6,390.3 311.3,391.2 317.8,396.8 321.0,400.1 325.8,405.8 329.1,409.1 333.9,412.3 337.9,415.6 342.0,418.1 337.1,420.5 330.7,418.9 324.2,417.2 317.0,415.6 312.1,411.5 308.9,407.4 304.9,401.7 298.4,398.5 292.8,396.0 288.0,397.7 283.1,401.7 280.7,407.4 275.1,409.9 269.4,409.1 262.2,408.3 257.3,403.4 250.9,400.1 246.0,400.1 241.2,402.5 236.4,395.2 238.8,389.5 235.6,381.4 230.7,375.8 224.3,372.5 217.0,370.1 210.6,367.7 205.7,365.3 201.7,365.3 196.9,367.7 195.3,363.6 189.6,358.0 190.4,355.6 198.5,354.8 204.1,353.1 197.7,352.3 191.2,352.3 187.2,347.5 183.2,346.7" fill="#808080" stroke="#000" stroke-width="0.9" stroke-linejoin="round"/>
<polygon points="321.0,379.8 330.7,379.0 335.5,375.0 339.5,379.0 346.0,375.0 348.4,368.5 354.0,369.3 352.4,375.0 346.8,379.8 338.7,384.7 329.1,384.7 321.8,382.2" fill="#808080" stroke="#000" stroke-width="0.9" stroke-linejoin="round"/>
<polygon points="341.1,354.8 346.8,357.2 352.4,362.0 356.5,366.9 359.7,371.7 358.1,373.3 353.2,367.7 347.6,361.2 342.0,357.2" fill="#808080" stroke="#000" stroke-width="0.9" stroke-linejoin="round"/>
<polygon points="307.3,350.3 313.7,350.7 312.9,352.3 307.3,352.3" fill="#808080" stroke="#000" stroke-width="0.9" stroke-linejoin="round"/>
<polygon points="371.8,375.0 377.4,379.8 382.3,386.3 383.1,389.5 378.2,389.5 374.2,384.7 371.8,379.0" fill="#808080" stroke="#000" stroke-width="0.9" stroke-linejoin="round"/>
<polygon points="386.3,387.9 394.3,392.8 392.7,394.4 386.3,390.3" fill="#808080" stroke="#000" stroke-width="0.9" stroke-linejoin="round"/>
<polygon points="400.8,396.0 414.5,402.5 412.9,404.2 400.0,398.5" fill="#808080" stroke="#000" stroke-width="0.9" stroke-linejoin="round"/>
<polygon points="390.3,399.3 399.2,403.4 396.0,405.0 390.3,401.7" fill="#808080" stroke="#000" stroke-width="0.9" stroke-linejoin="round"/>
<polygon points="412.1,409.9 421.7,414.0 419.3,415.6 412.9,413.2" fill="#808080" stroke="#000" stroke-width="0.9" stroke-linejoin="round"/>
<polygon points="420.1,402.5 426.6,406.6 427.4,413.2 423.4,411.5 420.1,405.8" fill="#808080" stroke="#000" stroke-width="0.9" stroke-linejoin="round"/>
<polygon points="426.6,417.2 433.8,421.3 433.0,423.0 426.6,419.7" fill="#808080" stroke="#000" stroke-width="0.9" stroke-linejoin="round"/>
<polygon points="467.7,454.4 473.3,456.9 472.5,461.9 468.5,460.2" fill="#808080" stroke="#000" stroke-width="0.9" stroke-linejoin="round"/>
<polygon points="473.3,464.4 478.2,468.6 475.8,470.3 473.3,466.9" fill="#808080" stroke="#000" stroke-width="0.9" stroke-linejoin="round"/>
<polygon points="480.6,477.9 484.6,478.7 483.0,480.4" fill="#808080" stroke="#000" stroke-width="0.9" stroke-linejoin="round"/>
<polygon points="487.8,487.2 490.3,489.8 487.8,490.6" fill="#808080" stroke="#000" stroke-width="0.9" stroke-linejoin="round"/>
<polygon points="489.5,494.0 491.9,494.9 490.3,495.8" fill="#808080" stroke="#000" stroke-width="0.9" stroke-linejoin="round"/>
<polygon points="447.5,500.0 455.6,504.3 463.7,510.4 471.7,517.3 470.9,520.8 464.5,517.3 455.6,511.2 448.3,504.3 446.7,500.9" fill="#808080" stroke="#000" stroke-width="0.9" stroke-linejoin="round"/>
<polygon points="471.7,506.1 474.9,507.8 473.3,509.5 470.9,507.8" fill="#808080" stroke="#000" stroke-width="0.9" stroke-linejoin="round"/>
<polygon points="554.7,477.9 560.4,476.2 565.2,479.6 563.6,483.8 558.8,483.8 554.7,482.1" fill="#808080" stroke="#000" stroke-width="0.9" stroke-linejoin="round"/>
<polygon points="566.8,471.1 572.5,468.6 576.5,466.9 577.3,469.5 571.7,472.0 565.2,473.7" fill="#808080" stroke="#000" stroke-width="0.9" stroke-linejoin="round"/>
<polygon points="634.5,444.4 639.4,444.4 639.4,446.9 635.3,446.9" fill="#808080" stroke="#000" stroke-width="0.9" stroke-linejoin="round"/>
<polygon points="641.0,446.9 645.8,447.7 645.0,449.4 641.0,448.6" fill="#808080" stroke="#000" stroke-width="0.9" stroke-linejoin="round"/>
<polygon points="770.7,168.3 777.2,171.7 779.6,174.3 772.4,179.4 770.7,177.7 769.9,172.6" fill="#808080" stroke="#000" stroke-width="0.9" stroke-linejoin="round"/>
<polygon points="764.3,161.8 769.9,163.1 766.7,164.9 765.1,163.1" fill="#808080" stroke="#000" stroke-width="0.9" stroke-linejoin="round"/>
<polygon points="751.4,156.2 756.2,158.8 753.0,158.8" fill="#808080" stroke="#000" stroke-width="0.9" stroke-linejoin="round"/>
<polygon points="739.3,151.0 743.3,151.0 741.7,153.6" fill="#808080" stroke="#000" stroke-width="0.9" stroke-linejoin="round"/>
<polygon points="759.5,159.7 764.3,160.1 759.5,161.0" fill="#808080" stroke="#000" stroke-width="0.9" stroke-linejoin="round"/>
<polygon points="155.0,116.6 159.8,110.3 156.6,113.0" fill="#808080" stroke="#000" stroke-width="0.9" stroke-linejoin="round"/>
<polygon points="167.1,98.4 171.1,94.8 168.7,97.5" fill="#808080" stroke="#000" stroke-width="0.9" stroke-linejoin="round"/>
<polygon points="121.1,418.1 128.4,410.7 134.8,404.2 149.3,401.7 148.5,404.2 134.0,410.7 125.9,416.4 121.1,418.9" fill="#808080" stroke="#000" stroke-width="0.9" stroke-linejoin="round"/>
<polygon points="91.3,402.5 101.0,403.4 117.1,400.9 115.5,404.2 105.0,406.6 92.1,405.8" fill="#808080" stroke="#000" stroke-width="0.9" stroke-linejoin="round"/>
<polygon points="84.8,412.3 99.3,414.8 97.7,418.1 86.5,414.0" fill="#808080" stroke="#000" stroke-width="0.9" stroke-linejoin="round"/>
<polygon points="139.6,396.8 147.7,396.0 145.3,399.3 139.6,398.5" fill="#808080" stroke="#000" stroke-width="0.9" stroke-linejoin="round"/>
<polygon points="128.4,400.9 134.0,400.9 134.0,402.5 127.6,402.5" fill="#808080" stroke="#000" stroke-width="0.9" stroke-linejoin="round"/>
<polygon points="181.6,392.8 187.2,392.0 184.0,400.9 180.8,399.3" fill="#808080" stroke="#000" stroke-width="0.9" stroke-linejoin="round"/>
<polygon points="207.4,379.8 212.2,382.2 210.6,390.3 206.5,387.1" fill="#808080" stroke="#000" stroke-width="0.9" stroke-linejoin="round"/>
<polygon points="195.3,379.0 199.3,377.4 196.9,383.0" fill="#808080" stroke="#000" stroke-width="0.9" stroke-linejoin="round"/>
<polygon points="220.2,341.9 224.3,341.9 221.9,344.3" fill="#808080" stroke="#000" stroke-width="0.9" stroke-linejoin="round"/>
<polygon points="215.4,348.3 228.3,348.3 223.5,350.3" fill="#808080" stroke="#000" stroke-width="0.9" stroke-linejoin="round"/>
<polygon points="136.4,307.2 138.0,304.8 137.2,308.8" fill="#808080" stroke="#000" stroke-width="0.9" stroke-linejoin="round"/>
<polygon points="146.9,302.3 148.5,299.1 147.7,303.1" fill="#808080" stroke="#000" stroke-width="0.9" stroke-linejoin="round"/>
<polygon points="159.0,318.5 162.2,316.1 161.4,313.6 159.0,316.1" fill="#808080" stroke="#000" stroke-width="0.9" stroke-linejoin="round"/>
<polygon points="177.5,335.4 183.2,336.2 179.9,337.8" fill="#808080" stroke="#000" stroke-width="0.9" stroke-linejoin="round"/>
<polygon points="226.7,643.0 237.2,643.0 234.8,647.0 226.7,646.0" fill="#808080" stroke="#000" stroke-width="0.9" stroke-linejoin="round"/>
<polygon points="116.3,420.5 119.5,420.5 117.1,423.0" fill="#808080" stroke="#000" stroke-width="0.9" stroke-linejoin="round"/>
<polygon points="76.8,400.9 86.5,403.4 84.8,407.4 76.8,406.6" fill="#808080" stroke="#000" stroke-width="0.9" stroke-linejoin="round"/>
<polygon points="173.5,430.4 177.5,426.3 185.6,425.5 186.4,428.7 180.8,431.2 175.1,431.2" fill="#808080" stroke="#000" stroke-width="0.9" stroke-linejoin="round"/>
<polygon points="225.1,446.9 229.1,446.1 228.3,450.2 225.1,450.2" fill="#808080" stroke="#000" stroke-width="0.9" stroke-linejoin="round"/>
<polygon points="60.7,401.7 66.3,401.7 66.3,406.6" fill="#808080" stroke="#000" stroke-width="0.9" stroke-linejoin="round"/>
<polygon points="90.0,78.0 111.7,78.0 108.3,88.0 100.0,96.3 96.7,103.0 93.0,111.3 90.0,112.0" fill="#808080" stroke="#000" stroke-width="1.1" stroke-linejoin="round"/>
<polygon points="100.0,128.0 107.5,126.3 106.7,134.7 103.3,144.7 99.2,153.0 95.0,144.7 94.2,136.3" fill="#808080" stroke="#000" stroke-width="1.1" stroke-linejoin="round"/>
<polygon points="97.6,183.4 110.3,182.9 111.9,184.4 112.4,194.6 110.3,200.7 105.5,205.0 104.0,213.0 106.2,219.7 111.4,219.0 116.5,217.5 117.3,220.4 112.1,224.1 107.7,223.4 100.4,222.6 98.1,217.5 94.1,212.9 93.0,203.7 96.1,190.5" fill="#808080" stroke="#000" stroke-width="1.1" stroke-linejoin="round"/>
<polygon points="124.6,220.4 129.0,220.8 128.0,224.1 125.0,224.0" fill="#808080" stroke="#000" stroke-width="1.1" stroke-linejoin="round"/>
<polygon points="96.7,224.9 104.0,226.3 104.8,232.9 101.8,234.4 98.0,230.0" fill="#808080" stroke="#000" stroke-width="1.1" stroke-linejoin="round"/>
<polygon points="128.3,234.4 134.9,232.2 137.9,240.3 134.9,243.2 129.8,238.1" fill="#808080" stroke="#000" stroke-width="1.1" stroke-linejoin="round"/>
<polygon points="109.9,240.3 117.3,242.5 115.1,246.2 109.9,249.1" fill="#808080" stroke="#000" stroke-width="1.1" stroke-linejoin="round"/>
<polygon points="118.0,246.9 120.2,247.6 118.7,256.5 115.1,260.9 112.9,255.0" fill="#808080" stroke="#000" stroke-width="1.1" stroke-linejoin="round"/>
<polygon points="124.6,244.7 125.4,246.0 122.4,256.5 121.7,255.0" fill="#808080" stroke="#000" stroke-width="1.1" stroke-linejoin="round"/>
<polygon points="129.8,242.5 134.2,244.0 135.6,251.3 131.2,250.6" fill="#808080" stroke="#000" stroke-width="1.1" stroke-linejoin="round"/>
<polygon points="124.6,253.5 129.8,252.8 129.0,256.5 125.4,256.5" fill="#808080" stroke="#000" stroke-width="1.1" stroke-linejoin="round"/>
<polygon points="120.2,227.1 124.6,229.3 123.9,234.4 121.0,232.9" fill="#808080" stroke="#000" stroke-width="1.1" stroke-linejoin="round"/>
<polygon points="138.8,258.3 143.9,266.4 146.0,274.6 141.9,282.7 136.8,289.8 134.8,287.8 132.0,284.0 126.6,282.7 124.6,274.6 122.6,270.5 116.4,270.5 112.4,273.6 109.3,278.7 102.2,284.8 95.1,291.9 94.1,287.8 105.3,280.7 111.4,269.5 120.5,264.4 128.7,263.4 133.7,260.3 137.8,257.3" fill="#808080" stroke="#000" stroke-width="1.1" stroke-linejoin="round"/>
<polygon points="90.0,327.0 100.0,324.5 110.0,326.5 121.0,327.5 133.5,320.5 135.0,323.0 130.0,327.5 121.0,331.5 110.0,332.0 100.0,332.0 90.0,334.0" fill="#808080" stroke="#000" stroke-width="1.1" stroke-linejoin="round"/>
<polygon points="90.0,341.0 102.0,347.0 110.0,341.0 121.0,341.0 124.0,344.0 110.0,350.0 102.0,352.0 105.0,360.0 115.0,369.0 118.0,378.0 108.0,376.0 100.0,366.0 90.0,378.0" fill="#808080" stroke="#000" stroke-width="1.1" stroke-linejoin="round"/>
<polygon points="155.1,317.0 161.2,316.0 163.2,324.2 156.1,328.2 161.2,334.3 156.1,343.5 152.1,338.4 153.1,330.3 151.0,323.1" fill="#808080" stroke="#000" stroke-width="1.1" stroke-linejoin="round"/>
<polygon points="125.6,348.6 143.9,347.6 141.9,350.5 127.6,350.6" fill="#808080" stroke="#000" stroke-width="1.1" stroke-linejoin="round"/>
<polygon points="151.0,344.5 159.0,345.0 157.0,348.6 151.0,348.0" fill="#808080" stroke="#000" stroke-width="1.1" stroke-linejoin="round"/>
<polygon points="141.0,360.0 150.0,359.5 151.0,364.0 143.0,365.0" fill="#808080" stroke="#000" stroke-width="1.1" stroke-linejoin="round"/>
<polygon points="154.1,360.8 161.2,357.7 179.5,359.8 180.5,365.9 169.3,361.8 157.1,363.8" fill="#808080" stroke="#000" stroke-width="1.1" stroke-linejoin="round"/>
<rect x="484.4" y="251.0" width="1.4" height="1.4" fill="#000"/>
<rect x="504.1" y="247.9" width="1.4" height="1.4" fill="#000"/>
<rect x="497.2" y="259.6" width="1.4" height="1.4" fill="#000"/>
<rect x="468.5" y="265.3" width="1.4" height="1.4" fill="#000"/>
<rect x="467.2" y="262.3" width="1.4" height="1.4" fill="#000"/>
<rect x="469.2" y="248.6" width="1.4" height="1.4" fill="#000"/>
<rect x="490.5" y="278.1" width="1.4" height="1.4" fill="#000"/>
<rect x="472.4" y="253.9" width="1.4" height="1.4" fill="#000"/>
<rect x="502.6" y="282.9" width="1.4" height="1.4" fill="#000"/>
<rect x="499.6" y="260.9" width="1.4" height="1.4" fill="#000"/>
<rect x="523.6" y="246.9" width="1.4" height="1.4" fill="#000"/>
<rect x="516.5" y="256.6" width="1.4" height="1.4" fill="#000"/>
<rect x="473.7" y="249.7" width="1.4" height="1.4" fill="#000"/>
<rect x="483.5" y="277.6" width="1.4" height="1.4" fill="#000"/>
<rect x="475.8" y="268.3" width="1.4" height="1.4" fill="#000"/>
<rect x="503.3" y="259.9" width="1.4" height="1.4" fill="#000"/>
<rect x="497.9" y="247.5" width="1.4" height="1.4" fill="#000"/>
<rect x="468.6" y="253.2" width="1.4" height="1.4" fill="#000"/>
<rect x="505.8" y="262.1" width="1.4" height="1.4" fill="#000"/>
<rect x="483.8" y="268.4" width="1.4" height="1.4" fill="#000"/>
<rect x="492.2" y="257.0" width="1.4" height="1.4" fill="#000"/>
<rect x="512.7" y="273.0" width="1.4" height="1.4" fill="#000"/>
<rect x="479.6" y="268.0" width="1.4" height="1.4" fill="#000"/>
<rect x="496.5" y="280.0" width="1.4" height="1.4" fill="#000"/>
<rect x="508.8" y="256.5" width="1.4" height="1.4" fill="#000"/>
<rect x="523.8" y="249.7" width="1.4" height="1.4" fill="#000"/>
<rect x="490.1" y="275.3" width="1.4" height="1.4" fill="#000"/>
<rect x="474.1" y="264.6" width="1.4" height="1.4" fill="#000"/>
<rect x="467.4" y="271.7" width="1.4" height="1.4" fill="#000"/>
<rect x="510.9" y="267.9" width="1.4" height="1.4" fill="#000"/>
<rect x="517.5" y="257.5" width="1.4" height="1.4" fill="#000"/>
<rect x="506.7" y="268.8" width="1.4" height="1.4" fill="#000"/>
<rect x="499.8" y="263.2" width="1.4" height="1.4" fill="#000"/>
<rect x="515.4" y="282.8" width="1.4" height="1.4" fill="#000"/>
<rect x="493.4" y="271.6" width="1.4" height="1.4" fill="#000"/>
<rect x="468.6" y="273.1" width="1.4" height="1.4" fill="#000"/>
<rect x="503.8" y="284.7" width="1.4" height="1.4" fill="#000"/>
<rect x="514.3" y="256.4" width="1.4" height="1.4" fill="#000"/>
<rect x="488.1" y="271.7" width="1.4" height="1.4" fill="#000"/>
<rect x="466.4" y="263.5" width="1.4" height="1.4" fill="#000"/>
<rect x="486.7" y="334.1" width="1.4" height="1.4" fill="#000"/>
<rect x="482.4" y="356.9" width="1.4" height="1.4" fill="#000"/>
<rect x="485.2" y="338.7" width="1.4" height="1.4" fill="#000"/>
<rect x="495.6" y="360.5" width="1.4" height="1.4" fill="#000"/>
<rect x="483.2" y="345.7" width="1.4" height="1.4" fill="#000"/>
<rect x="502.0" y="360.9" width="1.4" height="1.4" fill="#000"/>
<rect x="512.8" y="360.2" width="1.4" height="1.4" fill="#000"/>
<rect x="491.1" y="344.5" width="1.4" height="1.4" fill="#000"/>
<rect x="494.4" y="360.9" width="1.4" height="1.4" fill="#000"/>
<rect x="518.3" y="335.3" width="1.4" height="1.4" fill="#000"/>
<rect x="487.0" y="338.1" width="1.4" height="1.4" fill="#000"/>
<rect x="489.3" y="347.0" width="1.4" height="1.4" fill="#000"/>
<rect x="503.6" y="339.2" width="1.4" height="1.4" fill="#000"/>
<rect x="480.2" y="344.7" width="1.4" height="1.4" fill="#000"/>
<rect x="494.8" y="349.8" width="1.4" height="1.4" fill="#000"/>
<rect x="518.1" y="354.2" width="1.4" height="1.4" fill="#000"/>
<rect x="500.6" y="351.6" width="1.4" height="1.4" fill="#000"/>
<rect x="507.0" y="331.9" width="1.4" height="1.4" fill="#000"/>
<rect x="567.5" y="414.5" width="1.4" height="1.4" fill="#000"/>
<rect x="566.9" y="414.9" width="1.4" height="1.4" fill="#000"/>
<rect x="554.8" y="405.0" width="1.4" height="1.4" fill="#000"/>
<rect x="547.6" y="410.9" width="1.4" height="1.4" fill="#000"/>
<rect x="546.6" y="396.7" width="1.4" height="1.4" fill="#000"/>
<rect x="550.2" y="399.1" width="1.4" height="1.4" fill="#000"/>
<rect x="553.5" y="396.3" width="1.4" height="1.4" fill="#000"/>
<rect x="545.0" y="398.8" width="1.4" height="1.4" fill="#000"/>
<rect x="602.0" y="363.6" width="1.4" height="1.4" fill="#000"/>
<rect x="600.5" y="368.7" width="1.4" height="1.4" fill="#000"/>
<rect x="612.3" y="361.5" width="1.4" height="1.4" fill="#000"/>
<rect x="605.0" y="363.5" width="1.4" height="1.4" fill="#000"/>
<rect x="607.3" y="361.2" width="1.4" height="1.4" fill="#000"/>
<rect x="617.0" y="369.9" width="1.4" height="1.4" fill="#000"/>
<rect x="746.6" y="324.2" width="1.4" height="1.4" fill="#000"/>
<rect x="737.1" y="305.1" width="1.4" height="1.4" fill="#000"/>
<rect x="743.6" y="313.2" width="1.4" height="1.4" fill="#000"/>
<rect x="755.7" y="308.1" width="1.4" height="1.4" fill="#000"/>
<rect x="735.6" y="347.5" width="1.4" height="1.4" fill="#000"/>
<rect x="748.2" y="307.3" width="1.4" height="1.4" fill="#000"/>
<rect x="748.6" y="301.4" width="1.4" height="1.4" fill="#000"/>
<rect x="748.2" y="348.9" width="1.4" height="1.4" fill="#000"/>
<rect x="756.6" y="334.8" width="1.4" height="1.4" fill="#000"/>
<rect x="741.5" y="318.3" width="1.4" height="1.4" fill="#000"/>
<rect x="830.0" y="467.0" width="1.4" height="1.4" fill="#000"/>
<rect x="852.0" y="467.3" width="1.4" height="1.4" fill="#000"/>
<rect x="839.8" y="447.8" width="1.4" height="1.4" fill="#000"/>
<rect x="868.7" y="474.5" width="1.4" height="1.4" fill="#000"/>
<rect x="871.2" y="468.2" width="1.4" height="1.4" fill="#000"/>
<rect x="869.1" y="465.9" width="1.4" height="1.4" fill="#000"/>
<rect x="833.6" y="458.1" width="1.4" height="1.4" fill="#000"/>
<rect x="841.3" y="441.0" width="1.4" height="1.4" fill="#000"/>
<rect x="821.7" y="449.8" width="1.4" height="1.4" fill="#000"/>
<rect x="835.6" y="464.2" width="1.4" height="1.4" fill="#000"/>
<rect x="877.4" y="455.7" width="1.4" height="1.4" fill="#000"/>
<rect x="876.2" y="474.6" width="1.4" height="1.4" fill="#000"/>
<rect x="877.3" y="452.8" width="1.4" height="1.4" fill="#000"/>
<rect x="833.2" y="447.9" width="1.4" height="1.4" fill="#000"/>
<rect x="831.8" y="447.2" width="1.4" height="1.4" fill="#000"/>
<rect x="857.4" y="471.5" width="1.4" height="1.4" fill="#000"/>
<rect x="870.4" y="456.8" width="1.4" height="1.4" fill="#000"/>
<rect x="859.2" y="468.0" width="1.4" height="1.4" fill="#000"/>
<rect x="825.1" y="463.1" width="1.4" height="1.4" fill="#000"/>
<rect x="874.6" y="467.4" width="1.4" height="1.4" fill="#000"/>
<rect x="865.0" y="456.7" width="1.4" height="1.4" fill="#000"/>
<rect x="830.7" y="467.6" width="1.4" height="1.4" fill="#000"/>
<rect x="840.0" y="468.0" width="1.4" height="1.4" fill="#000"/>
<rect x="878.3" y="453.9" width="1.4" height="1.4" fill="#000"/>
<rect x="844.1" y="473.1" width="1.4" height="1.4" fill="#000"/>
<rect x="863.5" y="446.0" width="1.4" height="1.4" fill="#000"/>
<rect x="827.6" y="445.3" width="1.4" height="1.4" fill="#000"/>
<rect x="874.3" y="468.2" width="1.4" height="1.4" fill="#000"/>
<rect x="828.8" y="468.9" width="1.4" height="1.4" fill="#000"/>
<rect x="878.8" y="463.0" width="1.4" height="1.4" fill="#000"/>
<rect x="841.0" y="459.2" width="1.4" height="1.4" fill="#000"/>
<rect x="827.9" y="440.5" width="1.4" height="1.4" fill="#000"/>
<rect x="878.3" y="462.7" width="1.4" height="1.4" fill="#000"/>
<rect x="851.6" y="472.7" width="1.4" height="1.4" fill="#000"/>
<rect x="846.0" y="470.5" width="1.4" height="1.4" fill="#000"/>
<rect x="903.3" y="404.2" width="1.4" height="1.4" fill="#000"/>
<rect x="897.5" y="405.9" width="1.4" height="1.4" fill="#000"/>
<rect x="897.4" y="411.7" width="1.4" height="1.4" fill="#000"/>
<rect x="897.6" y="408.4" width="1.4" height="1.4" fill="#000"/>
<rect x="896.3" y="418.2" width="1.4" height="1.4" fill="#000"/>
<rect x="898.5" y="409.2" width="1.4" height="1.4" fill="#000"/>
<rect x="707.5" y="471.7" width="1.4" height="1.4" fill="#000"/>
<rect x="702.6" y="472.1" width="1.4" height="1.4" fill="#000"/>
<rect x="705.0" y="458.6" width="1.4" height="1.4" fill="#000"/>
<rect x="705.7" y="440.7" width="1.4" height="1.4" fill="#000"/>
<rect x="703.2" y="446.4" width="1.4" height="1.4" fill="#000"/>
<rect x="690.1" y="468.0" width="1.4" height="1.4" fill="#000"/>
<rect x="695.2" y="456.6" width="1.4" height="1.4" fill="#000"/>
<rect x="711.8" y="459.5" width="1.4" height="1.4" fill="#000"/>
<rect x="325.6" y="270.7" width="1.4" height="1.4" fill="#000"/>
<rect x="357.8" y="281.4" width="1.4" height="1.4" fill="#000"/>
<rect x="294.9" y="272.4" width="1.4" height="1.4" fill="#000"/>
<rect x="314.8" y="261.1" width="1.4" height="1.4" fill="#000"/>
<rect x="388.1" y="270.3" width="1.4" height="1.4" fill="#000"/>
<rect x="358.6" y="280.4" width="1.4" height="1.4" fill="#000"/>
<rect x="407.7" y="267.7" width="1.4" height="1.4" fill="#000"/>
<rect x="365.8" y="270.2" width="1.4" height="1.4" fill="#000"/>
<rect x="351.7" y="277.7" width="1.4" height="1.4" fill="#000"/>
<rect x="343.3" y="271.3" width="1.4" height="1.4" fill="#000"/>
<rect x="346.9" y="287.7" width="1.4" height="1.4" fill="#000"/>
<rect x="377.9" y="285.1" width="1.4" height="1.4" fill="#000"/>
<rect x="411.9" y="260.4" width="1.4" height="1.4" fill="#000"/>
<rect x="358.3" y="287.7" width="1.4" height="1.4" fill="#000"/>
<rect x="397.6" y="255.5" width="1.4" height="1.4" fill="#000"/>
<rect x="297.0" y="267.7" width="1.4" height="1.4" fill="#000"/>
<rect x="290.2" y="259.6" width="1.4" height="1.4" fill="#000"/>
<rect x="290.2" y="276.8" width="1.4" height="1.4" fill="#000"/>
<rect x="389.8" y="285.9" width="1.4" height="1.4" fill="#000"/>
<rect x="301.6" y="278.6" width="1.4" height="1.4" fill="#000"/>
<rect x="372.4" y="255.7" width="1.4" height="1.4" fill="#000"/>
<rect x="403.6" y="288.7" width="1.4" height="1.4" fill="#000"/>
<rect x="310.7" y="288.1" width="1.4" height="1.4" fill="#000"/>
<rect x="335.8" y="269.5" width="1.4" height="1.4" fill="#000"/>
<rect x="418.6" y="283.3" width="1.4" height="1.4" fill="#000"/>
<rect x="300.8" y="190.9" width="1.4" height="1.4" fill="#000"/>
<rect x="302.6" y="185.3" width="1.4" height="1.4" fill="#000"/>
<rect x="301.0" y="184.1" width="1.4" height="1.4" fill="#000"/>
<rect x="303.6" y="166.2" width="1.4" height="1.4" fill="#000"/>
<rect x="302.8" y="191.4" width="1.4" height="1.4" fill="#000"/>
<rect x="300.1" y="184.9" width="1.4" height="1.4" fill="#000"/>
<rect x="303.1" y="195.7" width="1.4" height="1.4" fill="#000"/>
<rect x="300.3" y="224.1" width="1.4" height="1.4" fill="#000"/>
<rect x="691.4" y="153.0" width="1.4" height="1.4" fill="#000"/>
<rect x="599.1" y="102.1" width="1.4" height="1.4" fill="#000"/>
<rect x="590.3" y="139.1" width="1.4" height="1.4" fill="#000"/>
<rect x="621.5" y="92.3" width="1.4" height="1.4" fill="#000"/>
<rect x="642.0" y="148.6" width="1.4" height="1.4" fill="#000"/>
<rect x="695.6" y="101.6" width="1.4" height="1.4" fill="#000"/>
<rect x="559.5" y="492.2" width="1.4" height="1.4" fill="#000"/>
<rect x="572.1" y="484.5" width="1.4" height="1.4" fill="#000"/>
<rect x="557.7" y="462.0" width="1.4" height="1.4" fill="#000"/>
<rect x="575.6" y="474.9" width="1.4" height="1.4" fill="#000"/>
<rect x="557.2" y="492.8" width="1.4" height="1.4" fill="#000"/>
<rect x="574.0" y="488.1" width="1.4" height="1.4" fill="#000"/>
<rect x="557.5" y="490.0" width="1.4" height="1.4" fill="#000"/>
<rect x="557.0" y="490.2" width="1.4" height="1.4" fill="#000"/>
<rect x="568.6" y="471.9" width="1.4" height="1.4" fill="#000"/>
<rect x="571.6" y="492.4" width="1.4" height="1.4" fill="#000"/>
<rect x="563.0" y="464.5" width="1.4" height="1.4" fill="#000"/>
<rect x="570.8" y="468.3" width="1.4" height="1.4" fill="#000"/>
<rect x="558.3" y="465.7" width="1.4" height="1.4" fill="#000"/>
<rect x="556.5" y="467.1" width="1.4" height="1.4" fill="#000"/>
<rect x="614.7" y="492.2" width="1.4" height="1.4" fill="#000"/>
<rect x="621.4" y="491.6" width="1.4" height="1.4" fill="#000"/>
<rect x="617.5" y="487.1" width="1.4" height="1.4" fill="#000"/>
<rect x="615.2" y="480.7" width="1.4" height="1.4" fill="#000"/>
<rect x="613.8" y="480.6" width="1.4" height="1.4" fill="#000"/>
<rect x="621.0" y="502.0" width="1.4" height="1.4" fill="#000"/>
<rect x="612.8" y="499.0" width="1.4" height="1.4" fill="#000"/>
<rect x="624.0" y="484.3" width="1.4" height="1.4" fill="#000"/>
<rect x="806.4" y="468.2" width="1.4" height="1.4" fill="#000"/>
<rect x="799.9" y="473.0" width="1.4" height="1.4" fill="#000"/>
<rect x="797.9" y="469.1" width="1.4" height="1.4" fill="#000"/>
<rect x="803.8" y="474.8" width="1.4" height="1.4" fill="#000"/>
<rect x="796.9" y="473.0" width="1.4" height="1.4" fill="#000"/>
<rect x="804.1" y="470.6" width="1.4" height="1.4" fill="#000"/>
<rect x="868.1" y="520.4" width="1.4" height="1.4" fill="#000"/>
<rect x="861.1" y="513.9" width="1.4" height="1.4" fill="#000"/>
<rect x="861.4" y="532.2" width="1.4" height="1.4" fill="#000"/>
<rect x="865.1" y="514.9" width="1.4" height="1.4" fill="#000"/>
<rect x="861.7" y="535.2" width="1.4" height="1.4" fill="#000"/>
<rect x="646.4" y="403.4" width="1.4" height="1.4" fill="#000"/>
<rect x="639.4" y="399.9" width="1.4" height="1.4" fill="#000"/>
<rect x="639.5" y="401.7" width="1.4" height="1.4" fill="#000"/>
<rect x="637.9" y="401.6" width="1.4" height="1.4" fill="#000"/>
<rect x="437.9" y="399.2" width="1.4" height="1.4" fill="#000"/>
<rect x="459.2" y="390.9" width="1.4" height="1.4" fill="#000"/>
<rect x="437.3" y="399.3" width="1.4" height="1.4" fill="#000"/>
<rect x="439.3" y="387.1" width="1.4" height="1.4" fill="#000"/>
<rect x="430.0" y="387.6" width="1.4" height="1.4" fill="#000"/>
<rect x="444.2" y="390.1" width="1.4" height="1.4" fill="#000"/>
<rect x="458.0" y="460.2" width="1.4" height="1.4" fill="#000"/>
<rect x="455.1" y="450.6" width="1.4" height="1.4" fill="#000"/>
<rect x="456.3" y="456.0" width="1.4" height="1.4" fill="#000"/>
<rect x="455.6" y="440.9" width="1.4" height="1.4" fill="#000"/>
<rect x="459.6" y="449.3" width="1.4" height="1.4" fill="#000"/>
<rect x="463.8" y="461.2" width="1.4" height="1.4" fill="#000"/>
<rect x="466.3" y="466.3" width="1.4" height="1.4" fill="#000"/>
<rect x="465.7" y="475.2" width="1.4" height="1.4" fill="#000"/>
<rect x="411.7" y="306.5" width="1.4" height="1.4" fill="#000"/>
<rect x="429.5" y="303.0" width="1.4" height="1.4" fill="#000"/>
<rect x="421.7" y="312.9" width="1.4" height="1.4" fill="#000"/>
<rect x="401.3" y="316.7" width="1.4" height="1.4" fill="#000"/>
<rect x="426.8" y="312.5" width="1.4" height="1.4" fill="#000"/>
<polygon points="162.0,95.0 166.0,94.0 171.0,99.0 168.0,100.0" fill="#808080" stroke="#000" stroke-width="0.8"/>
<polygon points="155.0,108.0 158.0,107.0 159.0,115.0 156.0,116.0" fill="#808080" stroke="#000" stroke-width="0.8"/>
<polygon points="134.0,126.0 137.0,126.0 136.0,128.0" fill="#808080" stroke="#000" stroke-width="0.8"/>
<line x1="92.9" y1="81" x2="92.9" y2="636" stroke="#000" stroke-width="0.9" stroke-dasharray="1,1" opacity="0.55"/>
<line x1="173.5" y1="81" x2="173.5" y2="636" stroke="#000" stroke-width="0.9" stroke-dasharray="1,1" opacity="0.55"/>
<line x1="254.1" y1="81" x2="254.1" y2="636" stroke="#000" stroke-width="0.9" stroke-dasharray="1,1" opacity="0.55"/>
<line x1="334.7" y1="81" x2="334.7" y2="636" stroke="#000" stroke-width="0.9" stroke-dasharray="1,1" opacity="0.55"/>
<line x1="415.3" y1="81" x2="415.3" y2="636" stroke="#000" stroke-width="0.9" stroke-dasharray="1,1" opacity="0.55"/>
<line x1="495.9" y1="81" x2="495.9" y2="636" stroke="#000" stroke-width="0.9" stroke-dasharray="1,1" opacity="0.55"/>
<line x1="576.5" y1="81" x2="576.5" y2="636" stroke="#000" stroke-width="0.9" stroke-dasharray="1,1" opacity="0.55"/>
<line x1="657.1" y1="81" x2="657.1" y2="636" stroke="#000" stroke-width="0.9" stroke-dasharray="1,1" opacity="0.55"/>
<line x1="737.7" y1="81" x2="737.7" y2="636" stroke="#000" stroke-width="0.9" stroke-dasharray="1,1" opacity="0.55"/>
<line x1="818.3" y1="81" x2="818.3" y2="636" stroke="#000" stroke-width="0.9" stroke-dasharray="1,1" opacity="0.55"/>
<line x1="898.9" y1="81" x2="898.9" y2="636" stroke="#000" stroke-width="0.9" stroke-dasharray="1,1" opacity="0.55"/>
<line x1="979.5" y1="81" x2="979.5" y2="636" stroke="#000" stroke-width="0.9" stroke-dasharray="1,1" opacity="0.55"/>
<line x1="93" y1="170.0" x2="1036" y2="170.0" stroke="#000" stroke-width="0.9" stroke-dasharray="1,1" opacity="0.55"/>
<line x1="93" y1="253.6" x2="1036" y2="253.6" stroke="#000" stroke-width="0.9" stroke-dasharray="1,1" opacity="0.55"/>
<line x1="93" y1="334.6" x2="1036" y2="334.6" stroke="#000" stroke-width="0.9" stroke-dasharray="1,1" opacity="0.55"/>
<line x1="93" y1="415.6" x2="1036" y2="415.6" stroke="#000" stroke-width="0.9" stroke-dasharray="1,1" opacity="0.55"/>
<line x1="93" y1="499.2" x2="1036" y2="499.2" stroke="#000" stroke-width="0.9" stroke-dasharray="1,1" opacity="0.55"/>
<line x1="93" y1="588.3" x2="1036" y2="588.3" stroke="#000" stroke-width="0.9" stroke-dasharray="1,1" opacity="0.55"/>
<path d="M225.7,293.4C228.6,293.3 237.9,292.2 242.9,292.9C247.9,293.6 251.8,295.4 255.8,297.5C259.8,299.6 263.5,304.1 266.9,305.8C270.3,307.5 273.0,307.7 276.1,307.7C279.2,307.7 281.3,306.7 285.3,305.8C289.3,304.9 295.4,302.6 300.0,302.1C304.6,301.6 308.6,302.2 312.9,303.0C317.2,303.8 321.3,305.9 325.9,306.7C330.5,307.5 337.2,306.3 340.6,307.7C344.0,309.1 344.9,312.9 346.1,315.0C347.3,317.1 347.7,319.7 348.0,320.6" fill="none" stroke="#000" stroke-width="1.6" stroke-dasharray="5,3.5"/>
<path d="M263.2,355.6C263.5,353.8 265.5,347.9 265.0,344.5C264.5,341.1 261.0,338.4 260.4,335.3C259.8,332.2 259.3,328.7 261.3,326.1C263.3,323.5 268.4,321.3 272.4,319.6C276.4,317.9 281.3,316.8 285.3,315.9C289.3,315.0 292.7,314.1 296.4,314.1C300.1,314.1 303.7,314.8 307.4,315.9C311.1,317.0 314.8,320.3 318.5,320.6C322.2,320.9 325.8,318.0 329.5,317.8C333.2,317.6 337.5,319.1 340.6,319.6C343.7,320.1 346.8,320.4 348.0,320.6" fill="none" stroke="#000" stroke-width="1.6" stroke-dasharray="5,3.5"/>
<path d="M348.0,320.6C348.3,321.5 348.0,323.4 349.8,326.1C351.6,328.9 356.2,334.3 359.0,337.1C361.8,339.9 363.3,341.6 366.4,342.7C369.5,343.8 373.2,343.5 377.5,343.6C381.8,343.8 388.5,345.6 392.2,343.6C395.9,341.6 398.4,335.8 399.6,331.6C400.8,327.5 399.5,321.9 399.6,318.7C399.7,315.4 399.9,313.2 400.0,312.1" fill="none" stroke="#000" stroke-width="1.6" stroke-dasharray="5,3.5"/>
<path d="M392.2,343.6C393.5,343.4 398.7,342.7 400.0,342.5" fill="none" stroke="#000" stroke-width="1.6" stroke-dasharray="5,3.5"/>
<path d="M362.7,357.4C363.3,359.9 364.5,367.9 366.4,372.2C368.2,376.5 372.9,378.9 373.8,383.2C374.7,387.5 371.6,394.0 371.9,398.0C372.2,402.0 373.4,404.3 375.5,407.4C377.6,410.5 381.6,412.9 384.7,416.6C387.8,420.3 392.1,425.8 394.0,429.5C395.9,433.2 396.1,435.6 395.8,438.7C395.5,441.8 392.7,446.4 392.1,447.9" fill="none" stroke="#000" stroke-width="1.6" stroke-dasharray="5,3.5"/>
<path d="M383.0,379.5C388.2,378.6 406.9,375.6 414.3,374.0C421.7,372.4 425.4,370.8 427.6,370.2" fill="none" stroke="#000" stroke-width="1.6" stroke-dasharray="5,3.5"/>
<path d="M444.2,325.9C447.0,324.1 454.4,315.8 460.8,314.9C467.2,314.0 479.2,317.2 482.9,320.4C486.6,323.6 483.3,328.7 482.9,334.2C482.4,339.7 481.6,348.5 480.2,353.6C478.8,358.7 478.3,362.8 474.6,364.6C470.9,366.4 463.2,366.9 458.1,364.6C453.0,362.3 446.5,357.2 444.2,350.8C441.9,344.4 444.2,330.0 444.2,325.9" fill="none" stroke="#000" stroke-width="1.6" stroke-dasharray="5,3.5"/>
<path d="M400.0,312.1C402.8,311.7 410.6,308.5 416.6,309.4C422.6,310.3 428.5,317.6 435.9,317.6C443.3,317.6 453.0,308.9 460.8,309.4C468.6,309.9 476.4,320.4 482.9,320.4C489.3,320.4 494.9,312.6 499.5,309.4C504.1,306.2 505.5,303.7 510.6,301.1C515.7,298.6 524.8,296.0 529.9,294.1C535.0,292.2 539.1,290.7 541.0,290.0" fill="none" stroke="#000" stroke-width="1.6" stroke-dasharray="5,3.5"/>
<path d="M543.8,290.0C544.7,294.1 545.6,308.9 549.3,314.9C553.0,320.9 561.8,322.2 565.9,325.9C570.0,329.6 572.4,330.1 574.2,337.0C576.0,343.9 574.1,360.0 576.9,367.4C579.7,374.8 588.0,377.0 590.8,381.2C593.6,385.4 593.0,390.4 593.5,392.3" fill="none" stroke="#000" stroke-width="1.6" stroke-dasharray="5,3.5"/>
<path d="M518.9,367.4C523.0,367.4 534.1,367.4 543.8,367.4C553.5,367.4 571.4,367.4 576.9,367.4" fill="none" stroke="#000" stroke-width="1.6" stroke-dasharray="5,3.5"/>
<path d="M400.0,342.5C404.6,343.9 421.6,347.1 427.6,350.8C433.6,354.5 433.6,360.9 435.9,364.6C438.2,368.3 438.3,369.7 441.5,372.9C444.7,376.1 450.7,381.7 455.3,384.0C459.9,386.3 464.5,385.9 469.1,386.8C473.7,387.7 477.8,387.2 482.9,389.5C488.0,391.8 494.0,396.9 499.5,400.6C505.0,404.3 512.0,407.5 516.1,411.6C520.2,415.8 523.0,420.4 524.4,425.5C525.8,430.6 524.4,439.3 524.4,442.1" fill="none" stroke="#000" stroke-width="1.6" stroke-dasharray="5,3.5"/>
<path d="M518.9,367.4C518.4,369.7 515.6,375.7 516.1,381.2C516.6,386.7 519.3,395.5 521.6,400.6C523.9,405.7 526.2,409.3 529.9,411.6C533.6,413.9 539.2,413.0 543.8,414.4C548.4,415.8 553.9,416.7 557.6,419.9C561.3,423.1 562.7,429.6 565.9,433.8C569.1,438.0 575.1,443.0 576.9,444.8" fill="none" stroke="#000" stroke-width="1.6" stroke-dasharray="5,3.5"/>
<path d="M576.9,367.4C579.7,365.6 588.0,360.1 593.5,356.4C599.0,352.7 604.1,349.4 610.1,345.3C616.1,341.2 624.0,334.0 629.5,331.5C635.0,329.0 638.2,329.7 643.3,330.1C648.4,330.6 655.8,332.1 659.9,334.2C664.0,336.3 665.4,339.3 668.2,342.5C671.0,345.7 675.1,348.5 676.5,353.6C677.9,358.7 677.4,367.4 676.5,372.9C675.6,378.4 672.9,383.6 671.0,386.8C669.1,390.0 666.3,391.4 665.4,392.3" fill="none" stroke="#000" stroke-width="1.6" stroke-dasharray="5,3.5"/>
<path d="M593.5,356.4C593.5,360.5 592.6,374.8 593.5,381.2C594.4,387.6 596.3,391.0 599.1,395.1C601.9,399.2 608.3,404.3 610.1,406.1" fill="none" stroke="#000" stroke-width="1.6" stroke-dasharray="5,3.5"/>
<path d="M610.1,395.1C613.3,394.2 623.0,390.7 629.5,389.5C636.0,388.3 642.8,387.6 648.8,388.1C654.8,388.6 661.7,389.3 665.4,392.3C669.1,395.3 670.5,402.4 671.0,406.1C671.5,409.8 668.7,413.0 668.2,414.4" fill="none" stroke="#000" stroke-width="1.6" stroke-dasharray="5,3.5"/>
<path d="M610.1,395.1C609.1,396.9 605.8,402.3 604.0,406.0C602.2,409.7 597.2,415.8 599.1,417.2C601.0,418.6 609.2,414.2 615.6,414.4C622.0,414.6 629.0,418.6 637.8,418.6C646.6,418.6 663.1,415.1 668.2,414.4" fill="none" stroke="#000" stroke-width="1.6" stroke-dasharray="5,3.5"/>
<path d="M576.9,444.8C580.6,442.0 593.6,432.8 599.1,428.2C604.6,423.6 608.3,419.0 610.1,417.2" fill="none" stroke="#000" stroke-width="1.6" stroke-dasharray="5,3.5"/>
<path d="M615.6,419.9C617.9,420.8 624.0,421.4 629.5,425.5C635.0,429.6 645.6,441.6 648.8,444.8" fill="none" stroke="#000" stroke-width="1.6" stroke-dasharray="5,3.5"/>
<path d="M668.2,414.4C668.7,417.6 667.8,428.7 671.0,433.8C674.2,438.9 684.8,443.0 687.5,444.8" fill="none" stroke="#000" stroke-width="1.6" stroke-dasharray="5,3.5"/>
<path d="M405.0,462.7C407.1,463.3 411.8,467.6 417.9,466.4C424.0,465.2 437.3,459.3 441.9,455.3C446.5,451.3 443.5,445.8 445.6,442.4C447.8,439.0 450.2,436.4 454.8,435.0C459.4,433.6 467.7,432.9 473.2,434.1C478.7,435.3 481.9,438.9 488.0,442.4C494.1,445.9 505.5,454.4 510.1,455.3C514.7,456.2 513.2,450.3 515.6,447.9C518.0,445.4 523.3,441.8 524.8,440.6" fill="none" stroke="#000" stroke-width="1.6" stroke-dasharray="5,3.5"/>
<path d="M441.9,455.3C443.4,457.1 447.1,461.5 451.1,466.4C455.1,471.3 461.0,479.6 465.9,484.8C470.8,490.0 476.3,493.4 480.6,497.7C484.9,502.0 488.9,507.8 491.7,510.6C494.5,513.4 492.9,515.8 497.2,514.3C501.5,512.8 513.2,505.7 517.5,501.4C521.8,497.1 523.3,493.1 523.0,488.5C522.7,483.9 517.8,478.3 515.6,473.7C513.5,469.1 511.0,463.9 510.1,460.8C509.2,457.7 510.1,456.2 510.1,455.3" fill="none" stroke="#000" stroke-width="1.6" stroke-dasharray="5,3.5"/>
<path d="M523.9,440.0C524.8,442.3 529.0,447.9 529.0,453.6C529.0,459.3 524.5,468.7 523.9,474.1C523.3,479.5 526.5,481.8 525.6,486.0C524.7,490.2 523.0,495.6 518.7,499.6C514.4,503.6 503.1,508.1 500.0,509.8" fill="none" stroke="#000" stroke-width="1.6" stroke-dasharray="5,3.5"/>
<path d="M500.0,453.6C501.1,453.9 504.0,451.9 506.8,455.3C509.6,458.7 515.3,471.0 517.0,474.1" fill="none" stroke="#000" stroke-width="1.6" stroke-dasharray="5,3.5"/>
<path d="M518.7,499.6C519.0,500.5 519.8,501.6 520.4,504.7C521.0,507.8 521.0,513.9 522.1,518.4C523.2,522.9 525.9,527.8 527.3,532.0C528.7,536.2 529.0,541.9 530.7,543.9C532.4,545.9 534.1,545.0 537.5,543.9C540.9,542.8 547.1,540.2 551.1,537.1C555.1,534.0 557.9,525.8 561.3,525.2C564.7,524.6 568.2,531.7 571.6,533.7C575.0,535.7 579.5,536.8 581.8,537.1C584.1,537.4 582.9,538.5 585.2,535.4C587.5,532.3 592.6,524.1 595.4,518.4C598.2,512.7 600.8,507.6 602.2,501.3C603.6,495.1 604.2,486.8 603.9,480.9C603.6,474.9 601.6,469.6 600.5,465.6C599.4,461.6 601.0,460.5 597.1,457.0C593.2,453.5 580.3,446.8 576.9,444.8" fill="none" stroke="#000" stroke-width="1.6" stroke-dasharray="5,3.5"/>
<path d="M581.8,450.2C584.3,452.2 594.5,460.1 597.1,462.1" fill="none" stroke="#000" stroke-width="1.6" stroke-dasharray="5,3.5"/>
<path d="M585.2,535.4C586.9,537.1 591.4,543.3 595.4,545.6C599.4,547.9 604.5,549.3 609.0,549.0C613.5,548.7 617.9,546.7 622.7,543.9C627.5,541.1 634.3,536.0 638.0,532.0C641.7,528.0 644.2,526.6 644.8,520.1C645.4,513.6 641.7,501.0 641.4,492.8C641.1,484.6 642.0,475.8 643.1,470.7C644.2,465.6 647.4,463.5 648.2,462.1" fill="none" stroke="#000" stroke-width="1.6" stroke-dasharray="5,3.5"/>
<path d="M644.8,520.1C647.1,520.1 654.1,520.7 658.4,520.1C662.7,519.5 666.1,519.0 670.4,516.7C674.7,514.4 681.7,508.1 684.0,506.4" fill="none" stroke="#000" stroke-width="1.6" stroke-dasharray="5,3.5"/>
<path d="M643.1,462.1C645.4,463.5 649.9,467.9 656.7,470.7C663.5,473.5 679.5,477.8 684.0,479.2" fill="none" stroke="#000" stroke-width="1.6" stroke-dasharray="5,3.5"/>
<path d="M619.3,448.5C621.3,449.4 627.2,451.3 631.2,453.6C635.2,455.9 641.1,460.7 643.1,462.1" fill="none" stroke="#000" stroke-width="1.6" stroke-dasharray="5,3.5"/>
<path d="M405.0,462.7C403.8,465.1 400.7,472.5 397.6,477.4C394.5,482.3 387.8,487.6 386.6,492.2C385.4,496.8 389.1,500.5 390.3,505.1C391.5,509.7 392.5,515.7 394.0,520.0C395.5,524.3 397.6,527.1 399.2,530.9C400.8,534.7 403.1,540.0 403.4,542.9C403.7,545.8 402.8,546.0 400.9,548.0C399.0,550.0 393.7,553.8 392.3,554.9" fill="none" stroke="#000" stroke-width="1.6" stroke-dasharray="5,3.5"/>
<path d="M403.4,544.6C405.0,544.8 407.6,547.2 412.9,545.5C418.2,543.8 430.0,535.6 435.2,534.3C440.4,533.0 441.2,535.7 443.8,537.7C446.4,539.7 447.8,543.7 450.6,546.3C453.5,548.9 459.2,552.1 460.9,553.2" fill="none" stroke="#000" stroke-width="1.6" stroke-dasharray="5,3.5"/>
<path d="M392.3,554.9C395.2,554.5 404.1,552.0 409.5,552.3C414.9,552.6 420.6,554.2 424.9,556.6C429.2,559.0 432.9,563.5 435.2,566.9C437.5,570.3 437.8,572.3 438.6,577.2C439.5,582.1 440.0,590.4 440.3,596.1C440.6,601.8 441.2,606.9 440.3,611.5C439.4,616.1 438.3,619.8 435.2,623.5C432.1,627.2 425.7,631.0 421.5,633.8C417.3,636.5 411.9,639.0 410.0,640.0" fill="none" stroke="#000" stroke-width="1.6" stroke-dasharray="5,3.5"/>
<path d="M460.9,553.2C459.2,555.2 452.9,560.4 450.6,565.2C448.3,570.1 446.6,576.6 447.2,582.3C447.8,588.0 450.3,594.9 454.0,599.5C457.7,604.1 464.1,608.1 469.5,609.8C474.9,611.5 481.5,611.5 486.6,609.8C491.8,608.1 496.7,602.9 500.4,599.5C504.1,596.1 507.5,594.4 508.9,589.2C510.3,584.1 510.0,573.8 508.9,568.6C507.8,563.5 505.2,561.3 502.1,558.3C499.0,555.3 494.4,551.7 490.1,550.6C485.8,549.5 481.2,551.1 476.3,551.5C471.4,551.9 463.5,552.9 460.9,553.2" fill="none" stroke="#000" stroke-width="1.6" stroke-dasharray="5,3.5"/>
<path d="M490.1,550.6C491.2,550.5 495.5,552.4 496.9,549.7C498.3,547.0 498.6,540.3 498.6,534.3C498.6,528.3 496.6,517.7 496.9,513.7C497.2,509.7 497.0,512.6 500.4,510.3C503.8,508.0 513.9,502.6 517.5,500.0C521.1,497.4 521.2,495.8 522.0,495.0" fill="none" stroke="#000" stroke-width="1.6" stroke-dasharray="5,3.5"/>
<path d="M517.5,500.0C518.1,501.4 518.9,501.7 520.9,508.6C522.9,515.5 524.7,536.4 529.5,541.2C534.3,546.1 546.5,538.3 549.9,537.7" fill="none" stroke="#000" stroke-width="1.6" stroke-dasharray="5,3.5"/>
<path d="M380.3,632.0C381.1,631.2 382.2,626.4 385.4,627.0C388.5,627.6 396.9,634.1 399.2,635.5" fill="none" stroke="#000" stroke-width="1.6" stroke-dasharray="5,3.5"/>
<path d="M720.0,532.6C723.4,534.3 734.9,540.8 740.6,542.9C746.3,545.0 749.7,545.6 754.3,545.5C758.9,545.4 762.9,541.3 768.0,542.0C773.1,542.7 780.3,548.1 785.2,549.7C790.1,551.3 792.9,550.4 797.2,551.5C801.5,552.6 805.2,554.9 810.9,556.6C816.6,558.3 827.8,559.1 831.5,561.7C835.2,564.3 831.8,567.7 833.2,572.0C834.6,576.3 836.7,583.5 840.1,587.5C843.5,591.5 848.9,594.1 853.8,596.1C858.6,598.1 864.1,599.5 869.2,599.5C874.4,599.5 880.1,598.4 884.7,596.1C889.3,593.8 894.2,590.4 896.7,585.8C899.2,581.2 900.3,574.6 900.0,568.6C899.7,562.6 896.6,554.0 894.9,549.7C893.2,545.4 891.5,544.3 889.8,542.9C888.1,541.5 885.6,541.5 884.7,541.2" fill="none" stroke="#000" stroke-width="1.6" stroke-dasharray="5,3.5"/>
<path d="M768.0,542.0C768.0,536.7 766.9,517.3 768.0,510.3C769.1,503.3 772.9,502.8 774.9,500.0C776.9,497.2 779.1,494.4 780.0,493.3" fill="none" stroke="#000" stroke-width="1.6" stroke-dasharray="5,3.5"/>
<path d="M896.9,549.2C899.2,550.2 906.0,554.0 910.5,555.1C915.0,556.2 917.3,555.6 924.1,556.0C930.9,556.4 945.7,556.0 951.4,557.7C957.1,559.4 954.2,563.5 958.2,566.2C962.2,568.9 969.0,573.6 975.3,573.9C981.5,574.2 990.9,569.3 995.7,567.9C1000.5,566.5 1000.8,565.1 1004.2,565.4C1007.6,565.7 1010.8,569.0 1016.1,569.6C1021.4,570.2 1032.7,568.9 1036.0,568.8" fill="none" stroke="#000" stroke-width="1.6" stroke-dasharray="5,3.5"/>
<path d="M951.4,557.7C952.2,555.4 955.1,550.6 956.5,544.1C957.9,537.6 959.0,524.2 959.9,518.5C960.8,512.8 962.0,512.6 961.6,510.0C961.2,507.4 958.3,504.2 957.6,503.0" fill="none" stroke="#000" stroke-width="1.6" stroke-dasharray="5,3.5"/>
<path d="M296.5,136.3C299.4,138.2 309.4,141.5 314.2,147.4C319.0,153.3 322.3,162.5 325.3,171.7C328.3,180.9 332.4,194.2 332.0,202.7C331.6,211.2 325.7,217.4 323.1,222.6C320.5,227.8 317.6,231.8 316.5,233.7" fill="none" stroke="#000" stroke-width="1.6" stroke-dasharray="5,3.5"/>
<path d="M296.5,136.3C293.6,138.2 283.6,142.2 278.8,147.4C274.0,152.6 269.3,159.9 267.8,167.3C266.3,174.7 268.9,184.6 270.0,191.6C271.1,198.6 269.2,204.1 274.4,209.3C279.6,214.5 294.0,218.5 301.0,222.6C308.0,226.7 313.9,231.8 316.5,233.7" fill="none" stroke="#000" stroke-width="1.6" stroke-dasharray="5,3.5"/>
<path d="M263.4,222.6C264.5,225.6 266.7,236.6 270.0,240.3C273.3,244.0 276.7,244.3 283.3,244.7C289.9,245.1 304.3,244.3 309.8,242.5C315.3,240.7 315.4,235.2 316.5,233.7" fill="none" stroke="#000" stroke-width="1.6" stroke-dasharray="5,3.5"/>
<path d="M265.6,224.8C259.0,225.2 236.8,224.8 225.7,227.0C214.6,229.2 207.7,231.5 199.2,238.1C190.7,244.7 179.7,254.6 174.9,266.8C170.1,279.0 167.5,301.9 170.4,311.1C173.3,320.3 188.9,320.3 192.6,322.1" fill="none" stroke="#000" stroke-width="1.6" stroke-dasharray="5,3.5"/>
<path d="M216.9,238.1C218.0,242.9 222.0,257.6 223.5,266.8C225.0,276.0 229.0,284.5 225.7,293.4C222.4,302.3 207.3,315.6 203.6,320.0" fill="none" stroke="#000" stroke-width="1.6" stroke-dasharray="5,3.5"/>
<path d="M316.5,233.7C325.0,234.1 353.7,232.9 367.3,235.9C380.9,238.9 390.2,247.4 398.3,251.4C406.4,255.4 407.9,256.9 416.0,260.2C424.1,263.5 439.6,267.2 447.0,271.3C454.4,275.4 458.1,277.9 460.3,284.5C462.5,291.1 460.3,306.7 460.3,311.1" fill="none" stroke="#000" stroke-width="1.6" stroke-dasharray="5,3.5"/>
<path d="M398.3,251.4C401.2,245.5 405.7,222.7 416.0,216.0C426.3,209.3 447.4,216.3 460.3,211.5C473.2,206.7 484.6,189.4 493.5,187.2C502.4,185.0 507.9,188.0 513.4,198.3C518.9,208.6 522.9,234.7 526.6,249.1C530.3,263.5 533.1,277.7 535.5,284.5C537.9,291.3 540.1,289.1 541.0,290.0" fill="none" stroke="#000" stroke-width="1.6" stroke-dasharray="5,3.5"/>
<path d="M744.0,271.3C748.1,275.0 761.4,286.8 768.4,293.4C775.4,300.0 783.9,303.7 786.1,311.1C788.3,318.5 779.5,329.4 781.7,337.7C783.9,346.0 795.7,354.0 799.4,361.0C803.1,368.0 804.3,375.0 803.8,379.6C803.3,384.2 793.2,387.5 796.3,388.9C799.4,390.3 816.5,387.3 822.6,388.0C828.7,388.7 829.9,390.7 833.1,393.3C836.3,395.9 840.1,398.5 841.9,403.8C843.6,409.1 843.3,421.4 843.6,424.9" fill="none" stroke="#000" stroke-width="1.6" stroke-dasharray="5,3.5"/>
<path d="M744.0,271.3C739.2,277.9 719.3,303.0 715.3,311.1C711.2,319.2 714.5,318.2 719.7,320.0C724.9,321.8 739.7,317.7 746.3,322.1C752.9,326.5 758.8,340.0 759.5,346.5C760.2,353.0 752.9,355.5 750.7,361.0C748.5,366.5 741.9,372.8 746.3,379.6C750.7,386.4 772.1,393.0 777.2,401.8C782.4,410.6 781.6,424.6 777.2,432.7C772.8,440.8 755.1,447.4 750.7,450.4" fill="none" stroke="#000" stroke-width="1.6" stroke-dasharray="5,3.5"/>
<path d="M710.9,392.9C716.8,390.7 740.4,381.8 746.3,379.6" fill="none" stroke="#000" stroke-width="1.6" stroke-dasharray="5,3.5"/>
<path d="M750.7,450.4C748.5,451.9 737.4,456.4 737.4,459.3C737.4,462.2 744.1,462.2 750.7,468.1C757.3,474.0 773.5,488.1 777.2,494.7C780.9,501.3 774.3,499.9 772.8,508.0C771.3,516.1 773.6,537.5 768.4,543.4C763.2,549.3 751.4,548.6 741.8,543.4C732.2,538.2 720.5,523.5 710.9,512.4C701.3,501.3 688.0,488.1 684.3,477.0C680.6,465.9 690.9,456.3 688.7,446.0C686.5,435.7 674.0,420.2 671.0,415.0" fill="none" stroke="#000" stroke-width="1.6" stroke-dasharray="5,3.5"/>
<path d="M777.0,435.4C778.2,436.3 780.8,438.7 784.0,440.6C787.2,442.5 792.2,445.8 796.3,446.8C800.4,447.8 805.1,447.8 808.6,446.8C812.1,445.8 811.5,444.2 817.3,440.6C823.1,437.0 837.0,427.7 843.6,424.9C850.2,422.1 852.3,423.8 857.0,424.0C861.7,424.2 869.2,425.7 871.7,426.0" fill="none" stroke="#000" stroke-width="1.6" stroke-dasharray="5,3.5"/>
<path d="M871.7,426.0C870.8,423.2 867.3,414.2 866.4,409.1C865.5,404.0 864.9,400.4 866.4,395.1C867.9,389.8 870.8,381.4 875.2,377.5C879.6,373.6 887.2,371.7 892.7,371.4C898.2,371.1 903.2,372.7 908.5,375.8C913.8,378.9 919.8,384.8 924.2,389.8C928.6,394.8 932.8,400.9 934.8,405.6C936.8,410.3 937.1,412.6 936.5,417.8C935.9,423.1 931.3,430.1 931.3,437.1C931.3,444.1 933.9,455.2 936.5,459.9C939.1,464.6 943.8,462.0 947.0,465.2C950.2,468.4 954.0,472.9 955.8,479.2C957.6,485.5 956.5,498.7 957.6,503.0C958.7,507.3 955.4,504.0 962.5,505.0C969.6,506.0 987.8,507.7 1000.0,509.0C1012.2,510.3 1030.0,512.3 1036.0,513.0" fill="none" stroke="#000" stroke-width="1.6" stroke-dasharray="5,3.5"/>
<path d="M93.7,447.4C96.2,446.2 102.9,442.8 108.4,440.0C113.9,437.2 121.4,432.9 126.9,430.8C132.4,428.7 137.0,428.6 141.6,427.1C146.2,425.6 150.5,423.8 154.5,421.6C158.5,419.5 161.6,415.4 165.6,414.2C169.6,413.0 173.9,415.0 178.5,414.2C183.1,413.4 189.5,410.8 193.2,409.6C196.9,408.4 196.3,406.9 200.6,406.9C204.9,406.9 212.8,408.2 219.0,409.6C225.2,411.0 232.6,412.9 237.5,415.2C242.4,417.5 244.8,423.1 248.5,423.5C252.2,423.9 255.9,420.2 259.6,417.9C263.3,415.6 267.0,411.9 270.6,409.6C274.2,407.3 279.3,404.9 281.0,404.0" fill="none" stroke="#000" stroke-width="1.6" stroke-dasharray="5,3.5"/>
<path d="M287.7,406.2C293.6,411.4 311.3,429.8 323.1,437.2C334.9,444.6 350.7,447.7 358.5,450.4C366.3,453.1 364.4,453.9 370.0,453.5C375.6,453.1 386.3,446.4 392.1,447.9C397.9,449.4 402.9,460.2 405.0,462.7" fill="none" stroke="#000" stroke-width="1.6" stroke-dasharray="5,3.5"/>
<path d="M93.0,403.3C97.8,403.0 112.8,402.2 121.7,401.7C130.7,401.1 140.3,399.2 146.7,400.0C153.1,400.8 156.4,404.4 160.0,406.7C163.6,409.0 166.7,412.8 168.0,414.0" fill="none" stroke="#000" stroke-width="1.6" stroke-dasharray="5,3.5"/>
<path d="M93.0,170.0C94.8,169.7 97.8,167.2 104.0,168.0C110.2,168.8 118.3,175.2 130.0,175.0C141.7,174.8 160.7,169.3 174.0,167.0C187.3,164.7 199.0,162.3 210.0,161.0C221.0,159.7 226.2,158.8 240.0,159.4C253.8,160.0 279.9,162.5 293.0,164.3C306.1,166.1 311.9,167.6 318.4,170.2C324.9,172.8 329.2,176.4 332.2,180.0C335.1,183.6 336.1,186.5 336.1,191.7C336.1,196.9 335.1,205.4 332.2,211.3C329.2,217.2 322.1,222.6 318.4,227.0C314.7,231.4 311.4,235.6 310.0,238.0C308.6,240.4 305.0,238.0 310.0,241.3C315.0,244.6 329.4,253.6 340.0,258.0C350.6,262.4 363.3,264.5 373.3,268.0C383.3,271.5 390.0,276.2 400.0,279.2C410.0,282.2 423.6,283.7 433.3,285.8C443.0,287.9 448.6,289.6 458.3,291.7C468.0,293.8 482.5,296.1 491.7,298.3C500.9,300.5 508.3,302.5 513.3,305.0C518.3,307.5 520.0,309.8 521.7,313.3C523.4,316.8 522.5,323.2 523.3,326.0C524.1,328.8 517.8,326.0 526.7,330.0C535.6,334.0 564.5,345.6 576.7,350.0C588.9,354.4 587.0,352.8 600.0,356.7C613.0,360.6 643.3,370.0 655.0,373.3C666.7,376.6 662.0,374.2 670.0,376.7C678.0,379.2 696.2,385.2 703.3,388.3C710.4,391.4 712.5,392.5 712.5,395.0C712.5,397.5 710.4,400.5 703.3,403.3C696.2,406.1 678.9,409.9 670.0,411.7C661.1,413.5 661.7,413.5 650.0,414.2C638.3,414.9 619.5,416.4 600.0,415.8C580.5,415.2 550.0,412.3 533.3,410.8C516.6,409.3 511.7,407.9 500.0,406.7C488.3,405.4 474.1,404.6 463.3,403.3C452.5,402.1 443.1,399.5 435.0,399.2C426.9,398.9 423.8,402.5 415.0,401.7C406.2,400.9 393.2,397.4 382.0,394.1C370.8,390.8 358.0,384.8 347.7,382.0C337.4,379.2 326.8,378.1 320.0,377.5C313.2,376.9 308.9,378.2 306.7,378.3" fill="none" stroke="#008000" stroke-width="2" stroke-linejoin="round"/>
<path d="M96.7,356.7C99.5,353.9 105.2,346.5 113.3,340.0C121.3,333.5 138.3,320.3 145.0,317.5C151.7,314.7 150.8,321.1 153.3,323.3C155.8,325.5 155.0,327.9 160.0,330.8C165.0,333.7 179.4,339.1 183.3,340.8" fill="none" stroke="#008000" stroke-width="2" stroke-linejoin="round"/>
<path d="M210.0,356.5C211.8,356.6 219.2,356.9 221.0,357.0" fill="none" stroke="#008000" stroke-width="2" stroke-linejoin="round"/>
<path d="M93.0,159.0C94.8,158.5 99.5,155.4 104.0,156.0C108.5,156.6 114.0,161.7 120.0,162.4C126.0,163.1 133.7,161.1 140.0,160.0C146.3,158.9 151.7,155.1 158.0,155.6C164.3,156.1 170.7,163.1 178.0,163.0C185.3,162.9 193.3,157.4 202.0,155.0C210.7,152.6 222.0,148.6 230.0,148.4C238.0,148.2 239.7,152.7 250.0,153.6C260.3,154.5 284.5,152.2 292.0,153.6C299.5,155.0 292.5,159.3 295.0,162.0C297.5,164.7 301.2,169.6 307.0,170.0C312.8,170.4 324.2,163.6 330.0,164.7C335.8,165.8 337.5,171.6 341.7,176.3C345.9,181.0 348.6,188.8 355.0,193.0C361.4,197.2 373.1,200.3 380.0,201.3C386.9,202.3 391.7,197.9 396.7,198.8C401.7,199.7 406.7,203.7 410.0,206.7C413.3,209.7 411.4,213.6 416.7,216.7C422.0,219.8 433.4,222.2 441.7,225.0C450.0,227.8 460.3,231.8 466.7,233.3C473.1,234.8 474.4,232.4 480.0,234.2C485.6,236.0 493.9,242.0 500.0,244.2C506.1,246.4 508.4,246.8 516.7,247.5C525.0,248.2 542.8,248.0 550.0,248.3C557.2,248.6 552.8,248.2 560.0,249.2C567.2,250.2 582.2,252.3 593.3,254.2C604.4,256.1 615.6,259.4 626.7,260.8C637.8,262.2 647.5,260.4 660.0,262.5C672.5,264.6 692.0,271.4 701.7,273.3C711.4,275.2 711.9,274.6 718.3,274.2C724.7,273.8 733.6,271.6 740.0,270.8C746.4,270.0 748.4,266.8 756.7,269.2C765.0,271.6 779.7,282.6 790.0,285.0C800.3,287.4 810.0,284.0 818.3,283.3C826.6,282.6 826.1,281.5 840.0,280.8C853.9,280.1 881.7,280.4 901.7,279.2C921.7,277.9 947.0,275.5 960.0,273.3C973.0,271.1 972.2,268.7 980.0,265.8C987.8,262.9 1000.3,257.3 1006.7,255.8C1013.1,254.3 1013.4,256.0 1018.3,256.7C1023.2,257.4 1033.0,259.4 1036.0,260.0" fill="none" stroke="#7b2fa0" stroke-width="2" stroke-linejoin="round"/>
<path d="M1036.0,317.3C1031.0,318.6 1014.6,323.6 1005.9,324.9C997.2,326.2 991.8,324.9 983.8,324.9C975.8,324.9 968.2,323.5 958.2,324.9C948.2,326.3 934.0,331.5 924.1,333.4C914.2,335.2 906.6,335.1 898.6,336.0C890.6,336.9 881.6,336.8 876.4,338.6C871.1,340.5 867.7,344.4 867.1,347.1C866.5,349.8 874.9,350.9 873.0,354.7C871.1,358.5 859.8,366.9 856.0,370.0C852.2,373.1 854.6,370.5 850.0,373.3C845.4,376.1 833.0,381.1 828.3,386.7C823.6,392.3 824.5,401.1 821.7,406.7C818.9,412.2 818.7,414.7 811.7,420.0C804.8,425.3 789.2,433.7 780.0,438.3C770.8,442.9 766.4,445.7 756.7,447.5C747.0,449.3 733.8,449.2 721.7,449.2C709.6,449.2 695.1,447.0 684.0,447.7C672.9,448.4 666.2,453.1 655.0,453.3C643.8,453.6 629.8,450.4 616.7,449.2C603.7,447.9 588.4,447.6 576.7,445.8C565.0,444.0 556.7,439.4 546.7,438.3C536.7,437.2 524.5,439.6 516.7,439.2C508.9,438.8 507.5,437.9 500.0,435.8C492.5,433.7 480.6,428.9 471.7,426.7C462.8,424.5 456.4,423.1 446.7,422.5C437.0,421.9 423.4,425.3 413.3,423.3C403.2,421.3 394.6,414.6 386.4,410.3C378.2,406.0 371.6,401.0 364.2,397.4C356.8,393.8 349.5,390.6 342.1,388.6C334.7,386.6 323.7,385.9 320.0,385.3" fill="none" stroke="#7b2fa0" stroke-width="2" stroke-linejoin="round"/>
<path d="M180.0,343.3C178.3,343.3 173.3,343.9 170.0,343.3C166.7,342.8 162.9,341.5 160.0,340.0C157.1,338.5 155.1,336.6 152.5,334.2C149.9,331.8 149.3,324.8 144.2,325.8C139.1,326.8 126.3,336.5 121.7,340.0C117.1,343.5 120.9,342.8 116.7,346.7C112.5,350.6 100.7,360.1 96.7,363.3C92.8,366.5 93.6,365.6 93.0,366.0" fill="none" stroke="#7b2fa0" stroke-width="2" stroke-linejoin="round"/>
<text x="280" y="169.7" font-size="13.3" fill="#000" textLength="30.7" lengthAdjust="spacingAndGlyphs">CNMI</text>
<text x="274.3" y="236.3" font-size="13.3" fill="#000" textLength="35.7" lengthAdjust="spacingAndGlyphs">Guam</text>
<text x="441.7" y="243.7" font-size="13.3" fill="#000" textLength="70" lengthAdjust="spacingAndGlyphs">Marshall Is.</text>
<text x="285" y="273" font-size="13.3" fill="#000" textLength="108.3" lengthAdjust="spacingAndGlyphs">Federated States</text>
<text x="297.3" y="287.3" font-size="13.3" fill="#000" textLength="83.4" lengthAdjust="spacingAndGlyphs">of Micronesia</text>
<text x="181" y="294" font-size="13.3" fill="#000" textLength="33" lengthAdjust="spacingAndGlyphs">Palau</text>
<text x="274.3" y="337.3" font-size="13.3" fill="#000" textLength="70.7" lengthAdjust="spacingAndGlyphs">Papua New</text>
<text x="289.2" y="351.3" font-size="13.3" fill="#000" textLength="43.3" lengthAdjust="spacingAndGlyphs">Guinea</text>
<text x="445" y="337.3" font-size="13.3" fill="#000" textLength="36.7" lengthAdjust="spacingAndGlyphs">Nauru</text>
<text x="490" y="356.7" font-size="13.3" fill="#000" textLength="43" lengthAdjust="spacingAndGlyphs">Kiribati</text>
<text x="611.7" y="372.5" font-size="13.3" fill="#000" textLength="42.5" lengthAdjust="spacingAndGlyphs">Kiribati</text>
<text x="756.7" y="372.5" font-size="13.3" fill="#000" textLength="42.5" lengthAdjust="spacingAndGlyphs">Kiribati</text>
<text x="537.5" y="402.5" font-size="13.3" fill="#000" textLength="40.8" lengthAdjust="spacingAndGlyphs">Tuvalu</text>
<text x="617.5" y="405" font-size="13.3" fill="#000" textLength="48.3" lengthAdjust="spacingAndGlyphs">Tokelau</text>
<text x="419.2" y="430.3" font-size="13.3" fill="#000" textLength="71.6" lengthAdjust="spacingAndGlyphs">Solomon Is.</text>
<text x="697.5" y="425.3" font-size="13.3" fill="#000" textLength="48.3" lengthAdjust="spacingAndGlyphs">Cook Is.</text>
<text x="615" y="441.3" font-size="13.3" fill="#000" textLength="40.8" lengthAdjust="spacingAndGlyphs">Samoa</text>
<text x="573.3" y="449.2" font-size="13.3" fill="#000" textLength="38.4" lengthAdjust="spacingAndGlyphs">W & F</text>
<text x="645.8" y="458.3" font-size="13.3" fill="#000" textLength="58" lengthAdjust="spacingAndGlyphs">A. Samoa</text>
<text x="454.2" y="475.5" font-size="13.3" fill="#000" textLength="50.8" lengthAdjust="spacingAndGlyphs">Vanuatu</text>
<text x="540.9" y="500.5" font-size="13.3" fill="#000" textLength="15.3" lengthAdjust="spacingAndGlyphs">Fiji</text>
<text x="647.4" y="500.5" font-size="13.3" fill="#000" textLength="27.2" lengthAdjust="spacingAndGlyphs">Niue</text>
<text x="805.8" y="489.2" font-size="13.3" fill="#000" textLength="107" lengthAdjust="spacingAndGlyphs">French Polynesia</text>
<text x="602.2" y="518.4" font-size="13.3" fill="#000" textLength="37.5" lengthAdjust="spacingAndGlyphs">Tonga</text>
<text x="400.7" y="528.6" font-size="13.3" fill="#000" textLength="93.7" lengthAdjust="spacingAndGlyphs">New Caledonia</text>
<text x="975.3" y="546.6" font-size="13.3" fill="#000" textLength="45.9" lengthAdjust="spacingAndGlyphs">Pitcairn</text>
<text x="991.4" y="561.6" font-size="13.3" fill="#000" textLength="12" lengthAdjust="spacingAndGlyphs">Is.</text>
</g>
<rect x="99.5" y="87.5" width="154" height="41.5" fill="rgba(255,255,255,0.6)" stroke="#555" stroke-width="0.8"/>
<line x1="106" y1="97.7" x2="125" y2="97.7" stroke="#800080" stroke-width="2"/>
<line x1="106" y1="116.8" x2="125" y2="116.8" stroke="#008000" stroke-width="2"/>
<text x="137.7" y="101.5" font-size="12" fill="#000" textLength="33" lengthAdjust="spacingAndGlyphs">29 °C</text>
<text x="178.4" y="101.5" font-size="12" fill="#000" textLength="48.6" lengthAdjust="spacingAndGlyphs">forecast</text>
<text x="137.7" y="120.6" font-size="12" fill="#000" textLength="33" lengthAdjust="spacingAndGlyphs">29 °C</text>
<text x="178.4" y="120.6" font-size="12" fill="#000" textLength="69" lengthAdjust="spacingAndGlyphs">climatology</text>
<text x="570" y="26.3" font-size="21" text-anchor="middle" fill="#000" textLength="385" lengthAdjust="spacingAndGlyphs">Sea surface temperature forecast for</text>
<text x="570" y="48.4" font-size="21" text-anchor="middle" fill="#000" textLength="104.5" lengthAdjust="spacingAndGlyphs">June 2026</text>
<text x="11.4" y="55.1" font-size="12.3" fill="#000" textLength="137" lengthAdjust="spacingAndGlyphs">Base period: 1981-2018</text>
<text x="11.4" y="70.6" font-size="12.3" fill="#000" textLength="105" lengthAdjust="spacingAndGlyphs">Model: ACCESS-S2</text>
<text x="1074.3" y="54.6" font-size="12.3" text-anchor="end" fill="#000" textLength="129.6" lengthAdjust="spacingAndGlyphs">Model run: 16/03/2026</text>
<text x="1074.3" y="71.7" font-size="12.3" text-anchor="end" fill="#000" textLength="109.8" lengthAdjust="spacingAndGlyphs">Issued: 18/03/2026</text>
<text x="93.0" y="657.2" font-size="14.5" text-anchor="middle" fill="#000">120°E</text>
<text x="173.5" y="657.2" font-size="14.5" text-anchor="middle" fill="#000">130°E</text>
<text x="254.1" y="657.2" font-size="14.5" text-anchor="middle" fill="#000">140°E</text>
<text x="334.6" y="657.2" font-size="14.5" text-anchor="middle" fill="#000">150°E</text>
<text x="415.2" y="657.2" font-size="14.5" text-anchor="middle" fill="#000">160°E</text>
<text x="495.7" y="657.2" font-size="14.5" text-anchor="middle" fill="#000">170°E</text>
<text x="576.3" y="657.2" font-size="14.5" text-anchor="middle" fill="#000">180°</text>
<text x="656.8" y="657.2" font-size="14.5" text-anchor="middle" fill="#000">170°W</text>
<text x="737.4" y="657.2" font-size="14.5" text-anchor="middle" fill="#000">160°W</text>
<text x="817.9" y="657.2" font-size="14.5" text-anchor="middle" fill="#000">150°W</text>
<text x="898.5" y="657.2" font-size="14.5" text-anchor="middle" fill="#000">140°W</text>
<text x="979.0" y="657.2" font-size="14.5" text-anchor="middle" fill="#000">130°W</text>
<text x="83.5" y="174.5" font-size="14.5" text-anchor="end" fill="#000">20°N</text>
<text x="83.5" y="258.1" font-size="14.5" text-anchor="end" fill="#000">10°N</text>
<text x="83.5" y="339.1" font-size="14.5" text-anchor="end" fill="#000">0°</text>
<text x="83.5" y="420.1" font-size="14.5" text-anchor="end" fill="#000">10°S</text>
<text x="83.5" y="503.7" font-size="14.5" text-anchor="end" fill="#000">20°S</text>
<text x="83.5" y="592.8" font-size="14.5" text-anchor="end" fill="#000">30°S</text>
<text x="98" y="621" font-size="12.3" fill="rgba(40,40,40,0.62)" textLength="485" lengthAdjust="spacingAndGlyphs">© Commonwealth of Australia 2026, Bureau of Meteorology, supported by COSPPac</text>
<polygon points="168.2,705.6 109.2,719.8 168.2,734.0" fill="#000080" stroke="#000" stroke-width="0.8"/>
<polygon points="917.5,705.6 976.3,719.8 917.5,734.0" fill="#800000" stroke="#000" stroke-width="0.8"/>
<rect x="168.20" y="705.6" width="23.72" height="28.4" fill="#00009f"/>
<rect x="191.62" y="705.6" width="23.72" height="28.4" fill="#0000c4"/>
<rect x="215.03" y="705.6" width="23.72" height="28.4" fill="#0000e8"/>
<rect x="238.45" y="705.6" width="23.72" height="28.4" fill="#0000ff"/>
<rect x="261.86" y="705.6" width="23.72" height="28.4" fill="#0018ff"/>
<rect x="285.28" y="705.6" width="23.72" height="28.4" fill="#0038ff"/>
<rect x="308.69" y="705.6" width="23.72" height="28.4" fill="#0058ff"/>
<rect x="332.11" y="705.6" width="23.72" height="28.4" fill="#0074ff"/>
<rect x="355.52" y="705.6" width="23.72" height="28.4" fill="#0094ff"/>
<rect x="378.94" y="705.6" width="23.72" height="28.4" fill="#00b4ff"/>
<rect x="402.36" y="705.6" width="23.72" height="28.4" fill="#00d4ff"/>
<rect x="425.77" y="705.6" width="23.72" height="28.4" fill="#09f0ee"/>
<rect x="449.19" y="705.6" width="23.72" height="28.4" fill="#23ffd4"/>
<rect x="472.60" y="705.6" width="23.72" height="28.4" fill="#3cffba"/>
<rect x="496.02" y="705.6" width="23.72" height="28.4" fill="#53ffa4"/>
<rect x="519.43" y="705.6" width="23.72" height="28.4" fill="#6dff8a"/>
<rect x="542.85" y="705.6" width="23.72" height="28.4" fill="#87ff70"/>
<rect x="566.27" y="705.6" width="23.72" height="28.4" fill="#a0ff56"/>
<rect x="589.68" y="705.6" width="23.72" height="28.4" fill="#b7ff40"/>
<rect x="613.10" y="705.6" width="23.72" height="28.4" fill="#d1ff26"/>
<rect x="636.51" y="705.6" width="23.72" height="28.4" fill="#ebff0c"/>
<rect x="659.93" y="705.6" width="23.72" height="28.4" fill="#ffe600"/>
<rect x="683.34" y="705.6" width="23.72" height="28.4" fill="#ffcc00"/>
<rect x="706.76" y="705.6" width="23.72" height="28.4" fill="#ffae00"/>
<rect x="730.17" y="705.6" width="23.72" height="28.4" fill="#ff9100"/>
<rect x="753.59" y="705.6" width="23.72" height="28.4" fill="#ff7700"/>
<rect x="777.01" y="705.6" width="23.72" height="28.4" fill="#ff5900"/>
<rect x="800.42" y="705.6" width="23.72" height="28.4" fill="#ff3b00"/>
<rect x="823.84" y="705.6" width="23.72" height="28.4" fill="#ff1e00"/>
<rect x="847.25" y="705.6" width="23.72" height="28.4" fill="#ed0400"/>
<rect x="870.67" y="705.6" width="23.72" height="28.4" fill="#c80000"/>
<rect x="894.08" y="705.6" width="23.72" height="28.4" fill="#a40000"/>
<line x1="168.20" y1="705.6" x2="168.20" y2="734.0" stroke="#000" stroke-width="0.7"/>
<line x1="191.62" y1="705.6" x2="191.62" y2="734.0" stroke="#000" stroke-width="0.7"/>
<line x1="215.03" y1="705.6" x2="215.03" y2="734.0" stroke="#000" stroke-width="0.7"/>
<line x1="238.45" y1="705.6" x2="238.45" y2="734.0" stroke="#000" stroke-width="0.7"/>
<line x1="261.86" y1="705.6" x2="261.86" y2="734.0" stroke="#000" stroke-width="0.7"/>
<line x1="285.28" y1="705.6" x2="285.28" y2="734.0" stroke="#000" stroke-width="0.7"/>
<line x1="308.69" y1="705.6" x2="308.69" y2="734.0" stroke="#000" stroke-width="0.7"/>
<line x1="332.11" y1="705.6" x2="332.11" y2="734.0" stroke="#000" stroke-width="0.7"/>
<line x1="355.52" y1="705.6" x2="355.52" y2="734.0" stroke="#000" stroke-width="0.7"/>
<line x1="378.94" y1="705.6" x2="378.94" y2="734.0" stroke="#000" stroke-width="0.7"/>
<line x1="402.36" y1="705.6" x2="402.36" y2="734.0" stroke="#000" stroke-width="0.7"/>
<line x1="425.77" y1="705.6" x2="425.77" y2="734.0" stroke="#000" stroke-width="0.7"/>
<line x1="449.19" y1="705.6" x2="449.19" y2="734.0" stroke="#000" stroke-width="0.7"/>
<line x1="472.60" y1="705.6" x2="472.60" y2="734.0" stroke="#000" stroke-width="0.7"/>
<line x1="496.02" y1="705.6" x2="496.02" y2="734.0" stroke="#000" stroke-width="0.7"/>
<line x1="519.43" y1="705.6" x2="519.43" y2="734.0" stroke="#000" stroke-width="0.7"/>
<line x1="542.85" y1="705.6" x2="542.85" y2="734.0" stroke="#000" stroke-width="0.7"/>
<line x1="566.27" y1="705.6" x2="566.27" y2="734.0" stroke="#000" stroke-width="0.7"/>
<line x1="589.68" y1="705.6" x2="589.68" y2="734.0" stroke="#000" stroke-width="0.7"/>
<line x1="613.10" y1="705.6" x2="613.10" y2="734.0" stroke="#000" stroke-width="0.7"/>
<line x1="636.51" y1="705.6" x2="636.51" y2="734.0" stroke="#000" stroke-width="0.7"/>
<line x1="659.93" y1="705.6" x2="659.93" y2="734.0" stroke="#000" stroke-width="0.7"/>
<line x1="683.34" y1="705.6" x2="683.34" y2="734.0" stroke="#000" stroke-width="0.7"/>
<line x1="706.76" y1="705.6" x2="706.76" y2="734.0" stroke="#000" stroke-width="0.7"/>
<line x1="730.17" y1="705.6" x2="730.17" y2="734.0" stroke="#000" stroke-width="0.7"/>
<line x1="753.59" y1="705.6" x2="753.59" y2="734.0" stroke="#000" stroke-width="0.7"/>
<line x1="777.01" y1="705.6" x2="777.01" y2="734.0" stroke="#000" stroke-width="0.7"/>
<line x1="800.42" y1="705.6" x2="800.42" y2="734.0" stroke="#000" stroke-width="0.7"/>
<line x1="823.84" y1="705.6" x2="823.84" y2="734.0" stroke="#000" stroke-width="0.7"/>
<line x1="847.25" y1="705.6" x2="847.25" y2="734.0" stroke="#000" stroke-width="0.7"/>
<line x1="870.67" y1="705.6" x2="870.67" y2="734.0" stroke="#000" stroke-width="0.7"/>
<line x1="894.08" y1="705.6" x2="894.08" y2="734.0" stroke="#000" stroke-width="0.7"/>
<line x1="917.50" y1="705.6" x2="917.50" y2="734.0" stroke="#000" stroke-width="0.7"/>
<rect x="168.2" y="705.6" width="749.3" height="28.4" fill="none" stroke="#000" stroke-width="0.8"/>
<text x="168.2" y="750.7" font-size="15.5" text-anchor="middle" fill="#000">0</text>
<text x="261.9" y="750.7" font-size="15.5" text-anchor="middle" fill="#000">4</text>
<text x="355.5" y="750.7" font-size="15.5" text-anchor="middle" fill="#000">8</text>
<text x="449.2" y="750.7" font-size="15.5" text-anchor="middle" fill="#000">12</text>
<text x="542.8" y="750.7" font-size="15.5" text-anchor="middle" fill="#000">16</text>
<text x="636.5" y="750.7" font-size="15.5" text-anchor="middle" fill="#000">20</text>
<text x="730.2" y="750.7" font-size="15.5" text-anchor="middle" fill="#000">24</text>
<text x="823.8" y="750.7" font-size="15.5" text-anchor="middle" fill="#000">28</text>
<text x="917.5" y="750.7" font-size="15.5" text-anchor="middle" fill="#000">32</text>
<text x="543" y="779.4" font-size="17" text-anchor="middle" fill="#000" textLength="120" lengthAdjust="spacingAndGlyphs">Degrees ( °C)</text>
<text x="11" y="808.2" font-size="12" fill="#000" textLength="7.5" lengthAdjust="spacingAndGlyphs">--</text>
<text x="25.8" y="808.2" font-size="12" fill="#000" textLength="8.5" lengthAdjust="spacingAndGlyphs">--</text>
<text x="42.4" y="808.2" font-size="12" fill="#000" textLength="7.5" lengthAdjust="spacingAndGlyphs">--</text>
<text x="54.6" y="808.2" font-size="12" fill="#000" textLength="285.4" lengthAdjust="spacingAndGlyphs">EEZ border V11 (Flanders Marine Institute, 2019).</text>
</svg></body></html>
